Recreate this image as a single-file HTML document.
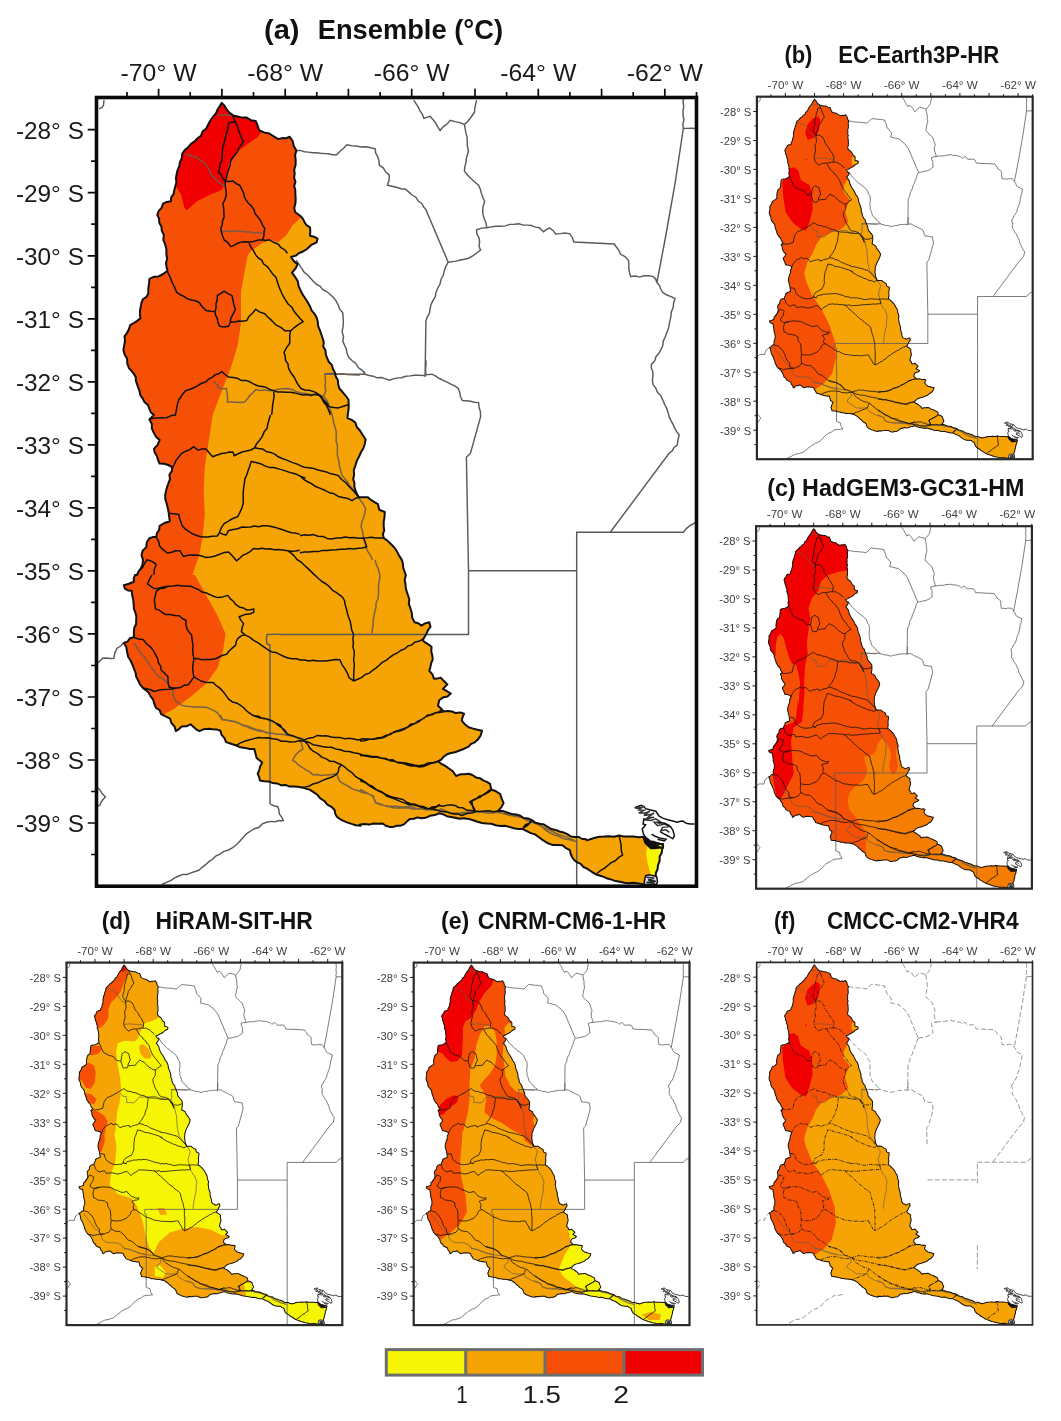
<!DOCTYPE html>
<html><head><meta charset="utf-8"><title>Figure</title>
<style>
html,body{margin:0;padding:0;background:#fff}
body{width:1061px;height:1421px;position:relative;overflow:hidden;font-family:"Liberation Sans",sans-serif}
svg text{font-family:"Liberation Sans",sans-serif}
</style></head><body>
<svg width="1061" height="1421" viewBox="0 0 1061 1421" style="position:absolute;left:0;top:0">
<defs>
<path id="basin" d="M221.8 102.9 L219.7 106.2 L217.6 109.5 L216.1 113.1 L213.1 116.7 L210.3 120.5 L208.1 124.7 L206 128.9 L202.5 131.5 L201 135.8 L197.5 138.3 L194.6 141.4 L190.9 143.9 L188.2 147.4 L184.7 150.1 L182.2 153.8 L181.8 158.1 L180 162 L179.3 166.2 L177.6 170.1 L176.6 174.2 L175.9 178.1 L176.4 182.2 L175.4 186.1 L174.3 190 L173.6 193.9 L171.2 197.3 L170.9 201.3 L166.8 201.9 L163 203.6 L161.7 207.7 L158.7 210.9 L157.3 214.9 L159.1 218.7 L159.3 222.9 L161.4 226.5 L161.8 230.7 L163.9 235 L163.3 239.9 L165.2 244.3 L166.4 249.5 L166.4 254.9 L167.2 258.8 L166 262.9 L166.5 266.9 L167.5 270.8 L163.2 274 L158.5 276.5 L153.7 276.8 L149.4 278.8 L149 283.7 L148.3 288.6 L148.3 293.5 L146.5 296.9 L143.1 299 L141.5 302.5 L140.8 306.4 L140 310.3 L139.9 314.3 L140.4 318.3 L137.2 320.9 L133.8 323.1 L130.2 325.1 L128.9 329.2 L127 333 L124.5 336.4 L125 341 L124.2 345.5 L123.4 350 L124.6 354.6 L127.1 358.8 L127.3 363.7 L129 368.1 L131.5 370.9 L133.8 373.9 L135.8 377.1 L135.8 380.6 L137 383.9 L138.2 387.7 L139.6 391.3 L140.4 395.2 L142.7 398.6 L144.6 402.2 L147.9 404.9 L149.4 408.8 L150.9 412.4 L153.9 414.9 L149.4 419.5 L151.8 423.7 L151.9 428.7 L153.9 433.1 L156.2 436.9 L159.6 439.9 L157.6 444.9 L153.9 448.9 L154.8 452.8 L157 456.2 L158 460 L159.6 463.6 L164 463.8 L168.1 465 L172 467 L171.8 471.1 L169.4 474.8 L170 479.1 L168.6 482.9 L167.2 486.7 L166.1 490.6 L165.2 494.6 L165.2 498.7 L166.6 503.2 L167.7 507.7 L168.6 512.3 L169.2 516.8 L169.8 521.3 L164.5 523 L159.6 525.8 L159.2 529.8 L156.9 533.2 L156.2 537.1 L152.7 537.1 L149.4 538.3 L146.8 542.2 L146.3 547.1 L142.7 550.6 L141.5 555.2 L142.9 559.7 L142.6 564.3 L141 568 L138.7 571.3 L137 574.9 L135.1 575 L133.7 578.3 L133.9 581.8 L129 583.8 L123.8 585.2 L124.9 588.6 L128 590.5 L131.7 590.8 L132.2 595.3 L133.2 599.8 L133.7 604.3 L133.9 608.9 L135.3 612.5 L136.3 616.3 L136.2 620.2 L136.1 624.1 L134.3 627.7 L133.9 631.6 L133.9 637.2 L130 638.2 L127.5 641.6 L123.8 642.9 L126.3 647.1 L127.1 651.9 L128.1 656.8 L130.8 661 L132.8 665.5 L134.1 669.2 L135.6 672.9 L136.2 676.8 L138.3 680.7 L140.2 684.7 L143 688.1 L145.9 690.3 L148.6 692.6 L150.6 696.3 L153.2 699.7 L154.3 703.9 L155.9 707.8 L159.6 710.2 L161.1 714.1 L165.6 716.3 L170.1 718.6 L171.4 723 L174.6 726.6 L175.8 731.1 L178.9 729.2 L181.4 726.6 L186.2 726.3 L190.5 724.3 L193.3 726.8 L196.2 729.3 L199.5 731.1 L203.9 729.2 L208.6 728.8 L212.6 729.3 L216.6 729.4 L220.4 730.8 L221.6 734.9 L224.5 738.2 L226 742.1 L231.1 743.7 L236.2 745.5 L240.5 747.3 L245.1 747.9 L249.6 749 L254.3 748.9 L255.5 753.4 L256.6 758 L259.4 760.2 L262.2 762.5 L260.3 766.1 L259.2 770 L257.7 773.8 L259.2 777.1 L259.9 780.6 L264.1 781.2 L268.4 781.4 L272.4 782.9 L277 783.4 L281.3 785.3 L286 785.1 L289.8 786.6 L293.9 786.5 L297.9 786.8 L301.8 787.4 L305.7 788.6 L309.6 789.6 L313.1 791.9 L317.2 794.6 L320.3 798.4 L324.4 801 L327.3 804.6 L331.4 806.8 L334.6 810 L335.2 813.6 L336.9 816.8 L340 819.1 L343.4 820.9 L347 822.4 L351.5 823.9 L355.9 825.2 L360.6 825.8 L360 824.6 L364.5 824.1 L369.1 824.6 L373.5 823.5 L378.1 823.7 L382.6 823.5 L385.8 825.7 L389.4 826.9 L393.2 826.9 L396.9 825.7 L400.7 825.7 L404.3 824.1 L406.9 821.4 L409.8 818.9 L413.8 818.8 L417.6 817.4 L421.7 818.2 L425.6 817.8 L430 815.8 L434.8 815.1 L439.2 813.3 L443.2 814.4 L446.9 816.2 L451 817 L455 817.8 L459.5 818.8 L464.1 818.2 L468.6 818.9 L473.1 820.3 L477.5 821.7 L482 823 L486.7 823.5 L491.3 823.8 L495.7 825.3 L500.2 825.9 L504.8 825.7 L509.3 826.9 L513.7 828.3 L518.2 829.1 L522.9 829.1 L526.8 831.1 L530.8 833.1 L535 834.4 L538.7 837 L542.9 840.2 L547.3 843 L552.3 844.9 L557.4 845.1 L562.5 845.3 L566 848.1 L569.9 850.2 L570.7 854 L572.3 857.5 L574.4 860.3 L577.2 862.4 L580.8 863.9 L583.4 867 L587 868.6 L590.2 870.8 L593.4 872.9 L596.8 874.7 L601.8 876.2 L606.5 878.2 L611.5 879.6 L615.7 881.1 L620 881.7 L624.3 882.8 L628.7 883.3 L633.7 882.8 L638.6 883.4 L643.4 884.5 L643.4 884.5 L647.9 883.6 L652.5 883.1 L656.9 882 L655.6 877.1 L655.9 872.9 L657.6 869 L658.1 864.9 L659.6 860.9 L659.7 856.4 L661.8 852.6 L662.3 848.3 L663 844 L658 843.9 L653.2 842.8 L647.1 842.8 L644.5 840.2 L643.4 836.7 L638.5 837.2 L633.6 836.6 L628.7 836.6 L623.8 836.4 L618.9 835.5 L614.1 836.7 L609.1 836.2 L604.2 836.6 L599.3 836.7 L595.1 837.7 L591 839 L587 840.4 L586.2 839.3 L582.3 839 L578.8 837 L574.9 837 L570.8 836.4 L567.3 834.2 L563.6 832.5 L559.5 831.5 L555.6 829.9 L551.4 829 L547.7 826.9 L544 824.6 L539.7 823.7 L535.5 822.7 L531.9 820.1 L528 818.5 L523.7 818 L520.1 815.7 L516.1 814.4 L511.5 813.9 L507.1 812.5 L502.7 810.9 L498 811 L501.3 807.4 L503.6 803.1 L501.7 798.7 L500.2 794.1 L496 791.2 L491.2 789.5 L490.1 783.9 L486.8 781.8 L483.2 780.3 L479.9 778.2 L475.9 777.4 L472.4 775 L468.6 773.7 L464.4 774.3 L460.1 774.3 L456.1 776 L452.8 771.3 L448.2 768 L444.9 765.6 L441.2 763.8 L438 761.3 L441.3 759.6 L443.7 756.7 L447.1 754.3 L450.9 753 L455 752.2 L459.6 750.5 L464.2 748.7 L468.6 746.6 L471.2 743.8 L474.8 742.3 L477.6 739.8 L480.6 735.6 L482.1 730.7 L477.5 729.8 L473.1 728.6 L468.6 727.3 L464.8 724.3 L461.8 720.5 L462.6 717 L464.1 713.8 L460.1 712.4 L455.9 713.1 L452 711.5 L447.9 711.1 L443.7 711.5 L441 708.5 L438 705.8 L439.2 700.2 L442.8 697.6 L447.4 696.6 L450.8 693.5 L446.8 691.2 L442.9 688.9 L447.4 684.4 L443.9 681.1 L440.7 677.6 L437.4 678.6 L433.9 678.8 L432.4 674.3 L429.3 670.8 L430.4 667 L431.2 663.1 L432.7 659.5 L432.3 655.4 L431.2 651.3 L431.6 647.1 L428.7 644.6 L425.5 642.7 L422.6 640.3 L426 634.6 L427.9 630.4 L430.5 626.7 L429.3 622.2 L425.1 623.4 L421.4 625.6 L418.3 623.3 L414.6 622.2 L412.2 617.6 L411.7 612.4 L410.1 607.5 L408.8 603.6 L409.3 599.4 L408.1 595.5 L406.7 591.7 L405.8 587.7 L405.4 583.6 L404.7 579.5 L405.9 575.3 L404.5 571.3 L403.2 567.6 L402.9 563.7 L401.8 559.9 L399.1 555.6 L396.8 551.1 L393.9 547 L390.6 543.8 L387.4 540.6 L383.7 538 L382.9 534.2 L384.2 530.5 L383.7 526.7 L383.7 521.8 L384.5 516.9 L384.8 512 L379.2 509.7 L378 504.1 L374.5 502.1 L371 499.9 L367.9 497.3 L363.4 497.2 L358.8 497.3 L357 493.9 L355.4 490.5 L354.4 486.8 L354.4 482.9 L353.2 479.2 L354.1 474.7 L353.8 470 L355.4 465.6 L356.8 460.9 L359.1 456.5 L361.1 452 L363.4 448.2 L364.8 444 L365.6 439.6 L362.8 435 L359.9 430.5 L356.8 427 L355.4 422.6 L351.7 419.9 L347.5 418.1 L347.9 413.5 L348.6 409 L348.7 404.4 L348.5 399.8 L345.8 395.8 L342.6 392.1 L339.4 388.5 L338.2 384.5 L337.9 380.3 L335.8 376.6 L334.9 372.6 L332.9 369.1 L331.9 365 L328.9 362 L327.3 358.3 L325.8 354.5 L325.5 350.3 L323.2 346.6 L323.8 342.2 L322.6 338.2 L321.3 334.2 L319.8 330.2 L318.2 326.2 L317.8 321.8 L316.6 317.6 L314.5 313.8 L311.6 310.4 L310 306.3 L307.8 302.4 L305.5 298.7 L303 295.1 L301 291.2 L298.7 286.4 L297.7 281.1 L295 276.8 L292 272.6 L295.4 268.7 L297.7 264.1 L293.8 261.1 L291.1 257 L295.8 255.6 L298.8 253.2 L302.4 251.8 L307 249 L310.9 245.2 L316.6 242.4 L317.5 238.6 L314 236.7 L310 235.8 L310.3 231.6 L310 227.3 L306.5 225.2 L304.3 221.7 L302.8 218.6 L300.5 216 L295.3 212.3 L294.2 208.1 L295.4 203.6 L295.7 199.1 L295.4 194.5 L295.3 190 L294.2 186 L295.5 181.8 L294.1 177.8 L294.7 173.7 L294.2 169.6 L295.6 164.9 L295.7 160 L295.1 155.1 L296.4 150.4 L293.8 146.1 L292.7 141 L289.7 136.8 L286 138.3 L282.1 138.1 L278.3 139.1 L273.7 136.4 L269.3 133.5 L264 132.4 L259.1 130.1 L257.6 125.5 L255.7 121 L250.9 120.2 L246.7 117.6 L242 117.6 L237.6 116.4 L233.1 115.4 L229.6 112.8 L226.8 109.7 L224.7 105.9Z"/>
<clipPath id="cb"><use href="#basin"/></clipPath>
<path id="sub" d="M233.1 115.4 L233.9 118.9 L235.4 122.1 L231.9 122.1 L228.6 123.3 L228 128.5 L226.3 133.5 L225.3 138 L224.3 142.6 L222.9 147 L222.4 151.5 L222.2 156.1 L221.8 160.6 L220 164.2 L219.7 168.2 L218.4 171.9 L221.2 174.5 L222.7 178.2 L225.2 181 M235.4 122.1 L237.6 126.5 L238.8 131.2 L240.9 136.4 L243.3 141.4 L241.4 144.8 L238.9 147.9 L237.6 151.6 L235.3 154.5 L232.9 157.5 L230.8 160.6 L230.1 165.2 L228.6 169.6 L227.4 173.4 L226.7 177.3 L225.2 181 M225.2 181 L225.2 185.5 L225.9 190 L226.3 194.5 L225.1 199.3 L222.9 203.6 L223.7 208.1 L223.9 212.6 L224.1 217.1 L222.6 220.8 L222.3 224.8 L220.7 228.5 L221.5 232.4 L222.7 236.1 L224.1 239.8 L227.9 242.7 L230.8 246.6 L234.3 245.1 L237.6 243.2 L241.3 242.1 L245.1 241.8 L248.9 242 L253.5 241.4 L257.9 240.1 L262.5 239.8 L263.9 236.2 L264 232.3 L264.8 228.5 L262.3 224.8 L260.7 220.7 L258 217.1 L255.1 213.7 L253.8 209.4 L251.2 205.8 L248.4 203.2 L246.2 200.1 L244.4 196.8 L243.6 192.8 L241.7 189.2 L239.9 185.5 L236.3 183.6 L233.1 181 L229.1 181.6 L225.2 181 M262.5 239.8 L265.9 240.6 L269.3 239.8 L273.7 242.3 L278.3 244.3 L281 247.7 L284.8 249.9 L287.4 253.3 M248.9 243.2 L251 247.2 L253.6 250.9 L255.7 254.9 M167.5 272 L170.1 276.9 L172 282.1 L174.5 287.1 L176.6 292.3 L180.3 294.7 L184.3 296.6 L187.9 299.1 L191.7 300.1 L195.6 300.8 L199.2 302.5 L202.2 306.8 L206 310.4 L210.5 311.2 L215 311.6 L216.1 307.7 L216 303.6 L217.3 299.8 L217.3 295.7 L220.7 293.5 L224.1 291.2 L228 293.6 L232 295.7 L233 300.3 L233.9 304.9 L235.4 309.3 L233.2 313.9 L230.8 318.3 L230.3 322.5 L228.6 326.3 L224.1 327 L219.5 326.3 L217.9 322.4 L217.3 318.3 L215.5 315.2 L215 311.6 M230.8 321.7 L234.8 322 L238.7 321.1 L242.8 321.3 L246.7 320.6 L249.1 316.3 L252.7 313 L255.7 309.3 L260 312.1 L264.8 313.8 L267.5 316.8 L270.5 319.4 L273.3 322.2 L276.1 325.1 L280.9 327.4 L285.1 330.8 L290.8 330.8 L294.6 327.3 L298.7 324.3 L303.2 321.7 L300.1 318.5 L297.1 315.1 L294.2 311.6 L291.9 307.3 L288.1 304 L285.4 299.9 L282.9 295.7 L280.9 291.3 L279 286.8 L277.5 282.2 L276.1 277.6 L272.7 274.1 L270 270.1 L267 266.3 L263.6 264 L261.8 260.2 L258.4 258 L255.7 255 M290.8 330.8 L289.7 334.9 L289.8 339 L289.7 343.2 L286.6 347.6 L284 352.3 L285.2 356.2 L285.6 360.4 L288 364 L288.5 368.1 L290.9 372.8 L294.1 377 L296.4 381.7 L298.5 385.3 L301 388.5 L304.8 390 L309 390.2 L313 391.4 L316.8 393 L320.7 395.9 L323.6 399.8 L326.2 404.1 L328.1 408.8 L330.4 414.9 M150.5 419.1 L154.6 418 L158.8 418 L163 417.7 L167.3 417.5 L171.2 415.6 L175.4 414.9 L176.6 408.8 L177.4 404.2 L178.8 399.8 L181 396.7 L183.1 393.5 L185.6 390.7 L189.5 389.5 L193.3 388 L196.9 386.2 L201.2 383.5 L206 381.7 L208.7 379.1 L212.2 377.4 L215 374.9 L218.7 373.8 L221.8 371.5 L225.1 374.5 L228.6 377.1 L233.1 377.6 L237.6 378.3 L241.3 380.4 L245.8 380.4 L249.8 381.8 L253.5 383.9 L257.4 385.7 L261.7 386.5 L265.9 387.3 L269.7 389.4 L273.8 390.7 L277.8 392 L282.1 391.9 L286.3 392.2 L290.5 392.3 L294.6 392.9 L298.7 394.1 L302.7 395 L306.9 394.5 L310.9 395.5 L315.1 394.3 L319.1 395.2 L321.7 398.4 L323.6 402 L326.5 405.4 L328.3 409.4 L330.4 413.3 M273.8 391.9 L274.1 396.1 L273.5 400.2 L272.7 404.3 L272.3 409.6 L271.6 414.9 M172 469.3 L174 465 L175.9 460.6 L178.8 456.8 L181.7 453.4 L185.6 451.2 L189.9 449.6 L193.5 446.7 L198 450.1 L201.9 449 L206 448.9 L209.3 452.9 L212.7 456.8 L217.2 455 L221.8 453.5 L225.6 453.1 L229.3 452 L233.1 452.3 L234.2 455.7 L238.2 453.8 L242.1 452 L246.5 451 L250.8 450 L254.6 447.8 L258.5 448.5 L262.5 448.9 L266.2 451.4 L270.6 452.4 L274.7 454.1 L278.3 456.8 L282.8 458.7 L287.4 460.4 L291.9 462.4 L296.5 463.9 L301 465.9 M270.4 415 L269.1 419.5 L267.8 424 L267 428.6 L264 432.1 L262.3 436.4 L259.6 440.2 L256.6 443.7 L254.6 447.8 M226.3 534.9 L222.8 534.2 L219.5 532.6 L221.3 527.8 L224.1 523.6 L228.5 521.1 L232.8 518.5 L237.6 516.8 L239.9 512.4 L241.9 507.9 L243.3 503.2 L243.2 499.1 L243.1 495 L243.3 491 L243.8 486.9 L244.4 482.9 L244.9 478.9 L246.6 475.3 L247.8 471.6 L249.6 466.5 L251.2 461.4 L255.9 462.5 L260.5 463.7 L264.8 465.9 L269.2 467.4 L274 467.5 L278.5 468.9 L283 470.1 L287.4 471.6 L292 473.1 L296.7 474.3 L301 476.5 L305.5 478.3 M169.8 513.4 L174.3 513.7 L178.8 514.5 L179.5 518.4 L181 522.1 L182.2 525.8 L185.2 529 L188.8 531.3 L192.4 533.8 L197.4 535.8 L202.6 537.1 L207.5 536.9 L212.4 536.3 L217.3 536 L219.5 532.6 L222.7 534.2 L226.3 534.9 L228.6 530.4 L233.2 529.5 L237.8 528.8 L242.1 527 L246.3 527.2 L250.4 526.9 L254.5 526 L258.7 526.7 L262.8 525.8 L267 525.8 L271.2 526.4 L275.3 527.4 L279.4 528.7 L283.4 530 L287.4 531.5 L291.5 532.7 L295.7 533.1 L299.8 534.4 M156.2 537.1 L158.6 541.4 L159.6 546.2 L163.3 549.9 L167.5 553 L171.7 552.3 L175.6 550.7 L179.9 550.7 L183.3 556.4 L188.1 555.3 L193.1 555 L198 555.2 L202.1 556.1 L206 557.5 L210.7 556.9 L215.2 556 L219.6 554.3 L224 552.6 L228.6 551.9 L231.3 554.8 L234 557.8 L236.5 560.9 L239.7 558.2 L242.8 555.3 L246.8 553.6 L250.4 551.4 L253.5 548.5 L257.6 549 L261.8 548.2 L265.9 549.1 L270.1 548.7 L274.2 549.8 L278.3 549.6 L282.9 550.1 L287.4 550.7 L291.6 551.3 L295.7 550.9 L299.8 550.3 M287.4 550.7 L291.2 553.1 L294.4 556.1 L297.2 559.7 L301 562 L304.4 565.2 L307.8 568.4 L311.2 571.6 L314.5 574.9 L318.1 578.3 L321.9 581.5 L326.2 584 L329.6 586.9 L332.6 590.3 L336.5 592.7 L340 595.4 M137 574.9 L139 570.8 L142.5 567.6 L144.5 563.5 L147.1 559.8 L152 561.4 L156.2 564.3 L154.3 569.4 L153.9 574.9 M322.6 400 L326.5 402.9 L329.4 406.8 L333.9 407.5 L338.5 407.9 L343.5 406.2 L348.6 404.5 M300 465.6 L304.4 467.3 L309.1 467.7 L313.7 468.5 L318.1 470.1 L322.3 470.9 L326.4 471.9 L330.3 473.6 L334.5 474.4 L338.5 475.8 L341.6 479.5 L345.5 482.3 L348.6 486 L352.2 489.6 L355.7 493.3 L358.8 497.3 M300 475.8 L303.3 479.1 L307.2 481.5 L311.3 483.7 L315.6 486.5 L320.3 488.4 L324.9 490.3 L329.4 492.7 L334.1 493.8 L338.3 496.4 L343 497.5 L347.7 498.4 L352 500.7 L355.2 498.5 L358.8 497.3 M300 535.7 L304.5 534.7 L309.1 535.3 L313.6 534.6 L318 536.3 L322.8 536.4 L327.1 538.4 L331.7 539.1 L336.2 538.1 L340.7 537.9 L345.2 536.9 L349.7 537.8 L354.2 537.6 L358.7 538.2 L363.3 538 L367.4 537.8 L371.5 537.2 L375.5 538 L379.6 538.1 L383.7 538 M300 552.7 L304.5 551.9 L309 552 L313.6 551.6 L318.1 551.6 L322.5 550.4 L327.1 550.4 L331.6 550 L336.2 549.7 L340.7 549.3 L345.1 549.2 L349.4 548.4 L353.8 548.9 L358.1 548.3 L362.4 548.1 L366.7 547 L365.3 542.4 L363.3 538 M152 575 L149.5 579.4 L147.5 584 L150.9 586.3 L154.3 588.6 L158.9 588.3 L163.3 586.9 L167.9 586.3 L173 585.9 L178 585.2 L182.1 585.9 L186.3 586 L190.5 586.3 L194.4 587.9 L198.3 589.5 L201.8 592 L206 592.8 L209.8 594.6 L213.6 596.3 L217.6 597.6 L222.8 596.9 L227.8 595.4 L230.2 598.6 L233.3 601.2 L235.7 604.4 L239.2 606.9 L243.4 607.9 L247 610.1 L250.5 609.8 L253.8 608.9 L253.8 612.3 L249.5 614.1 L244.8 614.6 L239.1 616.8 L241 620.4 L243.6 623.6 L242.2 627.5 L241.4 631.6 L244.8 634.9 L241.1 635.9 L238 638.3 L236.2 641.5 L235.7 645.1 L232.5 647.9 L229.3 650.8 L226.7 654.2 L222.8 655.3 L219.1 657 L215.4 658.7 L210.9 659.5 L206.3 659.4 L201.8 659.8 L197.9 658.6 L193.9 658.7 M167.9 586.3 L164.3 588.2 L160.1 588.6 L156.6 590.8 L155.4 595.3 L154.3 599.9 L155 604.4 L155.4 608.9 L159.2 610.1 L162.3 612.5 L165.6 614.6 L170.2 614.5 L174.6 615.6 L179.2 615.7 L182.2 618.5 L186 620.2 L185.9 624.8 L187.1 629.3 L189.2 632.2 L191.6 634.9 L192.1 639.8 L193 644.7 L192.7 649.6 L193 654.2 L193.9 658.7 L193.2 663.2 L192.7 667.7 L193 672.3 L193.9 676.8 L191.2 680.9 L188.2 684.7 L184.3 685.2 L180.8 687.4 L176.9 688.1 L172.9 687.9 L169 687 L168.1 681.9 L167.9 676.8 L164.6 673.3 L161.1 670 L160.6 666.1 L158.3 662.6 L157.7 658.7 L155.6 654.8 L153.5 650.9 L150.9 647.4 L146.6 643.8 L143 639.5 L138.3 639 L133.9 637.2 M193.9 676.8 L197.8 679.1 L201.8 681.3 L205.5 682.2 L209.3 682.6 L213.1 682.4 L215.9 685.3 L219.2 687.6 L222.1 690.4 L224.5 693.3 L226.6 696.4 L228.9 699.4 L232.4 701.9 L236.6 702.9 L240.2 705.1 L243.5 707.5 L246.2 710.5 L249.3 713 L253.5 715.6 L258.6 716.3 L262.9 718.6 L266.9 719 L270.6 720.3 L274.2 722 L277.1 724.3 L280.1 726.7 L283.2 728.8 L285.9 731.5 L287.7 734.9 M244.8 634.9 L249.6 637.1 L253.7 640.4 L258.3 642.9 L261.6 645.3 L264.9 647.7 L268.3 650 L271.9 651.9 L276.2 652.6 L280.1 654.6 L284 656.5 L288 658 L292.3 658.7 L296.5 658.8 L300.5 660 L304.7 660.1 L308.8 660.9 L313.1 660.2 L317.2 661 L321.8 661.1 L326.3 661.1 L330.9 660.2 L335.4 659.4 L340 659.8 M143 688.1 L146.9 688.8 L150.7 689.8 L154.3 691.5 L159.1 690.1 L164 689.4 L169 689.2 L173 688.8 L176.9 688.1 M340 595.1 L342.7 597.5 L344.5 600.7 L345.2 604.9 L346.4 609 L347.4 613.1 L348.6 617.2 L350.2 621.1 L351 625.7 L351.8 630.3 L353.6 634.6 L352.9 638.8 L353.4 642.9 L352.9 647 L354.2 651.2 L354.2 655.4 L353.6 659.5 L354.3 663.8 L354.1 668.1 L353.8 672.4 L353.7 676.7 L353.6 681 L357.7 679.3 L361.7 677.4 L365.2 674.5 L369.4 673.1 L372.7 670.3 L376.2 667.9 L379.5 665 L382.6 662.1 L386.5 660.1 L389.8 657.3 L393.3 654.9 L397.2 653 L400.7 650.5 L404.7 648.9 L407.9 646 L411.9 644.9 L415 642 L419.1 641.3 L422.6 639.2 M340 659.8 L341.9 664.4 L344.8 668.6 L347.3 672.9 L349 677.6 L353.6 681 M426 716.1 L430.5 714.6 L434.9 712.9 L439.5 711.6 L441.8 709.3 M252 715 L255.9 716.5 L259.8 717.9 L264 718.2 L267.9 719.5 L272.2 721.1 L276.2 723.3 L280.3 725.2 L282.9 729.3 L286 733.1 L289.6 735 L293.5 736.2 L297.3 737.6 L300.8 738.4 L304.1 739.9 L308.5 738.2 L313.3 737.4 L317.6 735.4 L322.1 736 L326.7 735.8 L331.2 736.9 L335.7 737.6 L340.3 737.6 L344.7 738.8 L349.3 738.3 L353.8 739.1 L358.3 739.9 L362.8 738.8 L367.4 738.9 L372 739.3 L376.5 738.1 L381 737.6 L385.5 735.6 L390.3 734.6 L394.3 731.6 L399 730.2 L403.6 728.6 L407.4 727.2 L410.5 724.3 L414.7 723.5 L418 721.1 L421.7 719.5 L425.9 716.6 L430.7 715 M236.2 745.5 L240.5 742.9 L245.2 741 L249.7 739.8 L254.2 738.6 L258.8 737.6 L263.3 738 L267.9 737.7 L272.4 738.8 L277 739.2 L281.3 741.2 L286 741.2 L290.5 742.1 L295 741.7 L299.5 740.7 L304.1 741 M304.1 741 L308.7 742.2 L312.9 744.7 L317.6 745.5 L322.1 746.6 L326.6 747.2 L331.3 747.3 L335.7 748.9 L340.3 749.7 L344.7 751.2 L349.3 751.6 L353.8 752.7 L358.3 753.5 L362.7 755 L367.3 755.5 L371.9 756.4 L376.6 756.4 L381 758 L385.7 758.4 L389.9 760.7 L394.6 761.2 L398.9 763.1 L403.6 763.6 L407.4 765 L411.4 765.9 L415.5 766 L419.4 767 L423.4 766.6 L427.1 765.1 L430.7 763.6 L435.6 762.5 L440 760.2 M304.1 741 L307.5 744 L309.8 748.1 L313.1 751.2 L317.7 753.7 L321.8 757.1 L326.7 759.1 L330.1 761.3 L334.2 761.5 L337.8 763.3 L341.4 764.8 L345 767.2 L348.2 770.2 L351.8 772.6 L354.8 775.8 L358.3 778.3 L362.2 780 L365.8 782.4 L369.2 785 L373.1 786.8 L376.4 789.6 L381 791.4 L385.2 794.2 L389.7 796.2 L394.5 797.6 L398.7 798.5 L402.9 799.5 L406.6 802.1 L410.6 803.7 L414.9 804.3 L419.4 806 L424.2 806.8 L428.5 808.9 L432.2 807 L436.4 806.5 L440 804.3 M341.4 764.8 L338.9 767.8 L338.3 771.9 L335.7 774.9 L331.4 777.3 L326.7 778.8 L322.1 780.6 L317.7 782.8 L312.9 784 L308.6 786.3 L305.2 787.1 L301.8 787.4 M360 740.9 L364.6 740.8 L369 739.2 L373.6 739.2 L378.1 738.6 L382.9 737.7 L387.2 735.7 L391.4 733.2 L396 731.7 L400.7 730.7 L405.3 728.7 L409.7 726 L414.2 723.8 L418.8 721.7 L421.8 719.4 L424.9 717.3 L427.9 714.9 L432 714.8 L435.7 712.8 L439.8 712.5 L443.7 711.5 M360 755.6 L364.1 755.7 L368.2 756.6 L372.2 757.3 L376.4 756.9 L380.4 757.9 L384.5 758.8 L388.4 760 L392.8 759.8 L396.5 761.9 L400.7 762.4 L405.2 763.1 L409.7 764.1 L414.2 765.1 L418.8 765.8 L423.7 765.1 L428.2 762.9 L433.2 762.4 L438 761.3 M360 780.5 L364.9 782.5 L369.2 785.6 L373.6 788.4 L378.2 790.8 L383 793 L387.1 796.3 L391.7 797.7 L396.2 799.6 L400.6 801.6 L405.2 803.1 L409.2 804.7 L413.5 804.8 L417.6 806 L421.7 807.2 L425.8 808.5 L430.1 808.8 L434.9 807.8 L439.2 805.4 L443.1 806.2 L447.1 805.1 L451.1 804.9 L455 805.4 L458.5 807.5 L462.8 807.8 L466.3 809.9 L470.9 810.4 L475.4 811 L479.9 811.4 L484.4 811 L489 810.8 L493.5 811.7 L498 811 M490.1 789.5 L486.9 792.4 L483.2 794.7 L479.9 797.4 L474.6 799.2 L469.7 802 L473 806.2 L475.4 811 M430.1 808.8 L434.2 809.5 L438.3 810.6 L442.3 811.6 L446.5 811.9 L450.5 813.3 L454.3 814 L458.2 814.1 L461.8 815.5 L466.2 813.7 L470.8 813 L475.4 812.1 M531.9 820.1 L529.3 823.2 L525.4 824.8 L522.9 828 M618.9 835.5 L620.2 840.3 L621.1 845.2 L621.2 850.3 L622.6 855.1 L618.7 857.4 L615.4 860.7 L611.2 862.6 L607.7 865.5 L604.3 868.4 L600.4 870.7 L596.8 873.5 M491.5 790.1 L487.8 792.7 L483.8 794.9 L479.4 796.2 L475.9 799.1 L471.9 801.2 L472.5 806.3 L474.3 811 M531.9 820.8 L529.4 823.6 L526.5 826.1 L523.3 828.1"/>
<path id="riv" d="M184.5 154.3 L188.8 154.7 L192.7 156.5 L196.9 157.2 L199.9 159.9 L203.4 162 L206 165.1 L208.7 168.6 L210.1 172.8 L212.7 176.4 L216.1 179.8 L219.5 183.2 L225.2 185.5 M217.3 114.9 L221.2 115.5 L225.2 114.6 L229.1 115.4 L233.1 115.4 M221.8 231.9 L225.5 231 L229.4 231.4 L233.1 230.7 L237.6 231.2 L242.2 231.6 L246.7 231.9 L250.7 231.9 L254.5 233.2 L258.6 232.6 L262.5 233.4 M213.9 381.7 L217.1 384.8 L219.5 388.5 L222.9 388.7 L226.3 388.5 L227.2 393 L227.6 397.5 L227.4 402 L231.7 402 L235.9 402.2 L240.2 402.5 L244.4 402 L247.4 399.1 L249.7 395.5 L253 392.8 L255.7 389.6 L260.2 390.4 L264.8 389.9 L269.3 390.7 L273.9 390.5 L278.3 389.3 L282.8 388.8 L287.4 388.5 L292.1 389.4 L296.4 391.8 L301 393 L305.5 393.6 L310 394.6 L314.6 394.6 L319.1 395.2 L323.6 396.4 L326.7 400.1 L329.2 404.3 M324.7 373.8 L325.3 378 L325.5 382.2 L325 386.5 L325.8 390.7 L323.6 396.4 M324.7 373.8 L329.1 373.6 L333.5 373.6 L337.9 374 L342.4 373.8 L346.8 374.4 L351.2 374.8 L355.6 374.9 L360 374.9 M324.9 400 L327.5 404.4 L329.8 408.9 L331.7 413.6 L332.8 418.1 L333.7 422.7 L335.1 427.2 L336.2 431.7 L336.3 436.2 L336.1 440.8 L337.3 445.2 L337.4 449.8 L337.3 454.3 L338.2 458.4 L339.1 462.4 L339.5 466.6 L340.8 470.6 L341.8 474.6 L344.2 478.1 L347 481.3 L349.2 485 L352 488.2 L354.3 492.2 L357.5 495.6 L359.9 499.5 L363.1 503.8 L365.6 508.6 L364.8 513.2 L363.5 517.7 L361.8 522.1 L361.1 526.7 L362.5 531.1 L363.2 535.7 L364.5 540.2 L365.5 544 L366.2 548 L367.9 551.6 L370.6 555.5 L372.4 559.9 M375.1 560 L376.3 564.6 L378.3 569 L379.6 573.6 L379.9 577.7 L379 581.7 L378.5 585.8 L378.6 589.8 L378.5 593.9 L378.1 598.5 L376.1 602.9 L375.9 607.5 L374.7 612 L373.9 616.6 L373.1 620.8 L373.1 625.1 L372.4 629.3 L371.7 633.5 M133.9 642.9 L136.9 647.3 L139.6 651.9 L143 655.4 L146 659.1 L148.6 663.2 L151.1 667.1 L154 670.7 L156.6 674.5 L159.3 677.1 L162.9 678.6 L165.6 681.3 L168.1 684.2 L170.4 687.1 L172.4 690.4 L173 695 L174.6 699.4 L177.8 702.5 L181.4 705.1 L185.9 706.3 L190.5 706.6 L195 707.3 L198.8 706.8 L202.5 707.2 L206.3 707.3 L210.2 708.9 L214.1 710.6 L217.6 713 L219.8 716.4 L222.1 719.8 L226.7 720.3 L231.2 720.8 L235.7 722 L239.5 723.5 L243 725.5 L247 726.6 L250.6 728.6 L254.5 729.6 L258.3 731.1 L262.9 731.4 L267.3 732.9 L271.9 733.3 M220.4 715 L222.6 719.5 L226.7 719.9 L230.5 721.2 L234.6 721.6 L238.5 722.9 L242.8 725.1 L247.5 726.3 L252.1 727.9 L256.6 729.7 L260.7 730.3 L264.7 731.6 L268.7 733 L272.9 733.2 L276.9 734.2 L280.9 734.2 L284.8 734.8 L288.7 735.6 L292.7 735.4 L296.8 737.5 L300.7 739.9 L301.6 744.4 L302.9 748.9 L298.6 751.9 L295 755.7 L292.7 760.2 L295.9 762.3 L298.5 765 L301.8 767 L305.5 769.7 L309.6 771.9 L313.1 774.9 L317.1 774.4 L321 775.4 L324.9 774.9 L328.9 774.9 L332.9 774.3 L336.9 773.8 L338.1 777.9 L340.2 781.7 L344.7 784.4 L349.3 787 L353.8 789.6 L358.4 790.8 L362.8 792.7 L367.5 793.6 L371.9 795.3 L374.2 799.2 L376.4 803.2 L380.1 804.6 L383.9 805.6 L387.7 806.6 L391.8 806.2 L395.9 806.2 L399.9 806.8 L404 806.9 L408.1 806.6 L412.7 807 L417 808.9 L421.8 808.7 L426.2 810 L430.8 809.6 L435.4 809.5 L440 810 M360 789.5 L364.6 791.7 L369 794.2 L373.6 796.3 L374.3 799.8 L375.8 803.1 L379.9 803.8 L383.7 805.6 L387.9 806 L391.7 807.6 L395.8 807.9 L400 807.7 L404.2 808 L408.3 807.9 L412.4 808.9 L416.6 808.8 L420.7 808.6 L424.7 809.6 L428.8 809.3 L432.8 809.8 L436.9 809.9 L441.4 810.9 L446 811.6 L450.4 812.9 L455 813.3 L459.1 813.6 L463.1 812.6 L467.2 812.4 L471.3 812.8 L475.4 812.1 L479.5 811.7 L483.5 812 L487.6 812 L491.6 812.7 L495.7 812.1 L500.3 812.6 L504.7 814.1 L509.2 815.2 L513.7 816 L518.3 816.7 L523 817.8 L527.2 820.6 L532 821.6 L536.4 823.5 L540.7 826.1 L545.4 828.2 L550 830.2 L554.5 832.5 L558.4 834.5 L562.6 835.9 L566.8 837.1 L570.7 839.1 L574.9 840.4 M440 808.5 L444.1 810.1 L448.1 812 L452.3 813.4 L457.2 813.2 L462.1 813.2 L467 812.1 L471.9 812.2 L476.1 812.3 L480.3 811.8 L484.5 812.8 L488.7 812.9 L492.9 813.1 L497.1 812.3 L501.3 812.9 L506.2 814 L511.1 815 L516.1 815.6 L520.9 817.1 L525.3 818.6 L529.2 821.3 L533.6 823 L538 824.4 L542.3 827 L546 830.5 L550.3 833 L553.9 834.7 L557.7 835.9 L561.3 837.7 L565 839.1 L568.7 839.6 L572.4 840.5 L576 841.6"/>
<path id="prov" d="M296.2 150.8 L300.3 150.4 L304.3 151.8 L308.4 152.1 L312.4 152.8 L316.5 152.8 L320.5 153.2 L324.6 153.5 L328.7 153.7 L332.6 154.8 L336.7 154.8 L340 151.3 L343.6 148.2 L346.9 144.7 L351.6 145.8 L356.3 146 L361 147 L365.9 146.7 L370.5 147.7 L375.2 148.8 L375.7 153 L377.8 156.8 L379 160.8 L379.3 165 L383.2 167.8 L385.7 172 L389.4 175.1 L389 180.3 L387.4 185.2 L392 186.2 L396.5 187.2 L400.9 188.7 L405.6 189.3 L408.9 192.1 L412.1 195 L415.8 197.2 L418.2 201 L421.8 203.5 L423.5 206.8 L425.9 209.6 L448.2 262.2 M448.2 262.2 L452.3 261.6 L456.4 261.1 L460.4 260 L464.5 259.3 L468.5 258.2 L472.8 256 L476.7 253 L480.6 250.1 L479 246.2 L479.6 241.9 L479 237.8 L476.9 234 L476.6 229.8 L481.5 228.1 L486.7 227.8 M413.7 100.1 L416 103.6 L418.3 107.1 L420 111 L422.4 114.4 L423.9 118.4 L430 116.3 L432.9 119.6 L435.7 122.9 L437.7 126.9 L440.1 130.5 L443.2 126.9 L447.1 124 L450.2 120.4 L455 121.6 L459.8 122.6 L464.4 124.4 L467.5 121.8 L469.9 118.8 L472.2 115.5 L474.5 112.3 L474.8 108.2 L475.7 104.1 L476.6 100.1 M464.4 124.4 L465.2 128.8 L465.9 133.2 L467.2 137.5 L467.2 142 L467.4 146.5 L468.5 150.8 L467.4 154.8 L466.3 158.8 L465.8 162.9 L464.8 167 L464.4 171.1 L467.5 175 L471 178.6 L474.7 182 L478.6 185.2 L480.3 189.2 L481.4 193.4 L482.9 197.5 L484.7 201.5 L483.1 206.4 L482.6 211.6 L483.3 215.7 L484.7 219.7 L486.2 223.6 L486.7 227.8 M486.7 227.8 L491.3 226.9 L495.9 226.2 L500.6 226.3 L505.3 225.9 L509.8 224.4 L514.5 224.3 L519.1 223.7 L523.1 225.1 L527.3 225.1 L531.4 225.5 L535.3 227.1 L539.4 227.8 L543.4 231.8 L546.3 229.6 L549.5 227.8 L553 230.4 L555.6 233.9 L560.3 233.6 L565.1 233.1 L569.8 233.9 L572.3 237.7 L573.8 242 L614.4 244 L616.5 247.3 L618.9 250.4 L620.4 254.1 L624.9 256.5 L628.5 260.2 L628.9 264.3 L628.8 268.4 L629.5 272.4 L630.6 276.4 L635.1 276.1 L639.5 277.1 L644 275.7 L648.4 275.8 L652.9 276.4 L655.6 279 L656.9 282.5 L659.5 285.5 L660.8 289.3 L663 292.6 L666.8 295 L671.1 296.6 L675.1 298.7 L673.6 303 L673.2 307.5 L671.4 311.8 L670.9 316.3 L670 320.7 L669.1 325.1 L668.2 329.3 L666.5 333.2 L665.1 337.3 L663.2 341.1 L662.8 345.5 L661 349.4 L659 353.2 L656.1 356.4 L654.8 360.7 L652 364 M683.3 98.1 L683.2 102.4 L683.7 106.8 L683 111.1 L683.1 115.5 L683.9 119.8 L682.9 124.2 L683.3 128.5 L687.3 128.4 L691.4 128.2 L695.4 128.5 M683.3 128.5 L675.1 183.2 L665 240 L656.9 282.5 M448.2 262.2 L445.9 266.3 L444.3 270.7 L443.3 275.3 L441 279.5 L440 284.1 L437.7 288.2 L436 292.6 L435.2 296.9 L432.9 300.6 L431 304.5 L430 308.8 L429.5 313.1 L427.3 316.9 L425.9 321 L425.1 376.9 M296.2 260.2 L298.9 264.2 L301.7 268.3 L304.3 272.4 L307.7 275 L310.6 278.2 L313.5 281.4 L316.5 284.5 L320.2 286.4 L322.8 289.6 L326.5 291.5 L329.7 294 L332.7 296.7 L335.8 300.4 L338 304.6 L339.7 309.2 L342.8 312.9 L343.1 317.6 L343.4 322.4 L343 327.1 L342.1 331.8 L343.5 336.6 L342.8 341.3 L344.6 345.3 L346.3 349.2 L347.1 353.6 L348.9 357.5 L352.2 360.7 L355.8 363.5 L358.2 367.6 L362.1 370.3 L365.1 373.7 M324.6 374.2 L365.1 374.2 L369.1 375.5 L373.2 376.2 L377.1 377.8 L381.5 377.6 L385.5 378.9 L389.4 380.3 L393.4 378.9 L397.4 377.9 L401.7 377.7 L405.6 376.2 L410 375.9 L414.4 375.3 L418.8 375.2 L423.2 375.4 L427.6 374.6 L432 374.2 L435.8 376.2 L439.4 378.5 L443.2 380.4 L447.1 382.2 L450.8 384.2 L454.8 385.9 L458.3 388.4 L459.8 392.4 L460.5 396.7 L462.4 400.5 L466.5 400.7 L470.5 401.3 L474.5 402.2 L478.6 402.6 L479.1 407.3 L480.4 411.9 L480.6 416.7 L470.5 453.2 L466.4 457.3 L468.5 570.7 L468.5 634.4 L280 634.4 M425.9 360 L426 364.7 L425.5 369.5 L425.9 374.2 M363.9 371.3 L365.1 374.2 M468.5 570.7 L576.7 570.7 M576.7 646.9 L576.7 532.2 L683.3 532.2 L686.3 528.6 L689.9 525.7 L694.1 523.4 L697.4 520.1 M651.6 363.2 L651.2 367.5 L652.8 371.6 L653 375.8 L652.4 380.1 L652.9 384.3 L655.7 388.2 L657.7 392.5 L661.1 396.1 L663 400.5 L664.7 404.5 L666.7 408.4 L668.1 412.6 L669.2 416.9 L671.1 420.8 L673.1 424.4 L674.7 428.2 L676.7 431.7 L679.2 435 L678 440 L677.2 445.1 L674.1 447.4 L672.2 450.9 L669.1 453.2 L610.3 532.2 M576.7 647 L576.7 885 M97 663.9 L99.8 661.1 L102.6 658.3 L106.4 658 L110.1 658.5 L113.9 658.3 L114.8 653.2 L116.8 648.4 L120.7 646 L123.8 642.7 M97 786.9 L100 790.1 L102.3 793.8 L105.4 796.8 L102 800.7 L99.8 805.3 L97 806.7 M283.6 820.9 L279.3 820.5 L275.1 821.8 L270.8 821.4 L266.6 822.3 L262.2 823.9 L259 827.3 L254.5 828.7 L250.6 831 L246.8 833.6 L243.3 837.2 L240 840.9 L236.6 844.5 L232.7 847.7 L228.5 850 L223.9 851.3 L220 854.2 L215.7 856.2 L212.6 859.3 L208.8 861.7 L205.6 864.7 L202.1 867.3 L198.8 870.3 L194.9 871.5 L191 872.9 L187.1 874.4 L182.8 874.4 L179 876 L174.6 877.9 L170.7 880.6 L166.3 882.4 L162 884.5 M282 634.4 L277 634.3 L272 634.4 L267 634.4 L266.4 639.2 L267 644 L270 645 L270 804 L270 803.9 L273.8 805.7 L277.9 806.7 L278.9 810.2 L279.3 813.8 L281.7 817.2 L283.6 820.9 M104 100 L103.5 105 L102 107.5 L99 108.8"/>
<path id="provf" d="M296.2 150.8 L300.3 150.4 L304.3 151.8 L308.4 152.1 L312.4 152.8 L316.5 152.8 L320.5 153.2 L324.6 153.5 L328.7 153.7 L332.6 154.8 L336.7 154.8 L340 151.3 L343.6 148.2 L346.9 144.7 L351.6 145.8 L356.3 146 L361 147 L365.9 146.7 L370.5 147.7 L375.2 148.8 L375.7 153 L377.8 156.8 L379 160.8 L379.3 165 L383.2 167.8 L385.7 172 L389.4 175.1 L389 180.3 L387.4 185.2 L392 186.2 L396.5 187.2 L400.9 188.7 L405.6 189.3 L408.9 192.1 L412.1 195 L415.8 197.2 L418.2 201 L421.8 203.5 L423.5 206.8 L425.9 209.6 L448.2 262.2 M448.2 262.2 L452.3 261.6 L456.4 261.1 L460.4 260 L464.5 259.3 L468.5 258.2 L472.8 256 L476.7 253 L480.6 250.1 L479 246.2 L479.6 241.9 L479 237.8 L476.9 234 L476.6 229.8 L481.5 228.1 L486.7 227.8 M413.7 100.1 L416 103.6 L418.3 107.1 L420 111 L422.4 114.4 L423.9 118.4 L430 116.3 L432.9 119.6 L435.7 122.9 L437.7 126.9 L440.1 130.5 L443.2 126.9 L447.1 124 L450.2 120.4 L455 121.6 L459.8 122.6 L464.4 124.4 L467.5 121.8 L469.9 118.8 L472.2 115.5 L474.5 112.3 L474.8 108.2 L475.7 104.1 L476.6 100.1 M464.4 124.4 L465.2 128.8 L465.9 133.2 L467.2 137.5 L467.2 142 L467.4 146.5 L468.5 150.8 L467.4 154.8 L466.3 158.8 L465.8 162.9 L464.8 167 L464.4 171.1 L467.5 175 L471 178.6 L474.7 182 L478.6 185.2 L480.3 189.2 L481.4 193.4 L482.9 197.5 L484.7 201.5 L483.1 206.4 L482.6 211.6 L483.3 215.7 L484.7 219.7 L486.2 223.6 L486.7 227.8 M486.7 227.8 L491.3 226.9 L495.9 226.2 L500.6 226.3 L505.3 225.9 L509.8 224.4 L514.5 224.3 L519.1 223.7 L523.1 225.1 L527.3 225.1 L531.4 225.5 L535.3 227.1 L539.4 227.8 L543.4 231.8 L546.3 229.6 L549.5 227.8 L553 230.4 L555.6 233.9 L560.3 233.6 L565.1 233.1 L569.8 233.9 L572.3 237.7 L573.8 242 L614.4 244 L616.5 247.3 L618.9 250.4 L620.4 254.1 L624.9 256.5 L628.5 260.2 L628.9 264.3 L628.8 268.4 L629.5 272.4 L630.6 276.4 L635.1 276.1 L639.5 277.1 L644 275.7 L648.4 275.8 L652.9 276.4 L655.6 279 L656.9 282.5 L659.5 285.5 L660.8 289.3 L663 292.6 L666.8 295 L671.1 296.6 L675.1 298.7 L673.6 303 L673.2 307.5 L671.4 311.8 L670.9 316.3 L670 320.7 L669.1 325.1 L668.2 329.3 L666.5 333.2 L665.1 337.3 L663.2 341.1 L662.8 345.5 L661 349.4 L659 353.2 L656.1 356.4 L654.8 360.7 L652 364 M683.3 98.1 L683.2 102.4 L683.7 106.8 L683 111.1 L683.1 115.5 L683.9 119.8 L682.9 124.2 L683.3 128.5 L687.3 128.4 L691.4 128.2 L695.4 128.5 M683.3 128.5 L675.1 183.2 L665 240 L656.9 282.5 M448.2 262.2 L445.9 266.3 L444.3 270.7 L443.3 275.3 L441 279.5 L440 284.1 L437.7 288.2 L436 292.6 L435.2 296.9 L432.9 300.6 L431 304.5 L430 308.8 L429.5 313.1 L427.3 316.9 L425.9 321 L425.1 376.9 M296.2 260.2 L298.9 264.2 L301.7 268.3 L304.3 272.4 L307.7 275 L310.6 278.2 L313.5 281.4 L316.5 284.5 L320.2 286.4 L322.8 289.6 L326.5 291.5 L329.7 294 L332.7 296.7 L335.8 300.4 L338 304.6 L339.7 309.2 L342.8 312.9 L343.1 317.6 L343.4 322.4 L343 327.1 L342.1 331.8 L343.5 336.6 L342.8 341.3 L344.6 345.3 L346.3 349.2 L347.1 353.6 L348.9 357.5 L352.2 360.7 L355.8 363.5 L358.2 367.6 L362.1 370.3 L365.1 373.7 M425.9 360 L426 364.7 L425.5 369.5 L425.9 374.2 M363.9 371.3 L365.1 374.2 M468.5 570.7 L576.7 570.7 M651.6 363.2 L651.2 367.5 L652.8 371.6 L653 375.8 L652.4 380.1 L652.9 384.3 L655.7 388.2 L657.7 392.5 L661.1 396.1 L663 400.5 L664.7 404.5 L666.7 408.4 L668.1 412.6 L669.2 416.9 L671.1 420.8 L673.1 424.4 L674.7 428.2 L676.7 431.7 L679.2 435 L678 440 L677.2 445.1 L674.1 447.4 L672.2 450.9 L669.1 453.2 L610.3 532.2 M97 663.9 L99.8 661.1 L102.6 658.3 L106.4 658 L110.1 658.5 L113.9 658.3 L114.8 653.2 L116.8 648.4 L120.7 646 L123.8 642.7 M97 786.9 L100 790.1 L102.3 793.8 L105.4 796.8 L102 800.7 L99.8 805.3 L97 806.7 M283.6 820.9 L279.3 820.5 L275.1 821.8 L270.8 821.4 L266.6 822.3 L262.2 823.9 L259 827.3 L254.5 828.7 L250.6 831 L246.8 833.6 L243.3 837.2 L240 840.9 L236.6 844.5 L232.7 847.7 L228.5 850 L223.9 851.3 L220 854.2 L215.7 856.2 L212.6 859.3 L208.8 861.7 L205.6 864.7 L202.1 867.3 L198.8 870.3 L194.9 871.5 L191 872.9 L187.1 874.4 L182.8 874.4 L179 876 L174.6 877.9 L170.7 880.6 L166.3 882.4 L162 884.5 M104 100 L103.5 105 L102 107.5 L99 108.8 M324.6 374.2 L365.1 374.2 L389.4 380.3 L405.6 376.2 L432 374.2 L458.3 388.4 L462.4 400.5 L478.6 402.6 L480.6 416.7 L470.5 453.2 L466.4 457.3 L467.2 493.7 M576.7 532.2 L683.3 532.2 L697.4 520.1 M576.7 536 L576.7 580 M576.7 713 L576.7 765"/>
<g id="est"><path d="M647.32 846.83 L660.89 849.37 L660.89 852.77 L658.35 862.94 L657.07 874.82 L650.71 874.82 L647.32 862.09 L646.05 853.61Z" fill="none" stroke="none"/>
<path d="M634.6 807.81 L637.99 806.54 L641.38 805.27 L643.93 806.54 L645.62 808.66 L650.71 809.93 L655.8 811.2 L657.5 813.75 L659.19 816.29 L663.44 818.41 L667.68 819.69 L672.77 820.96 L677.01 822.23 L680.4 821.21 L682.94 820.96 L685.06 822.65 L687.18 823.5 L690.58 823.93 L694.39 823.93" fill="none" stroke="#111"/>
<path d="M635.45 808.24 L642.23 807.39 L638.84 809.93 L643.93 810.36 L638.84 812.9 L645.62 812.9 L649.86 811.2 L643.93 815.45 L650.71 814.6 L654.11 812.9 L647.32 817.99 L654.11 817.14 L643.93 819.69 L650.71 820.53 L655.8 818.84 L660.89 822.23 L654.11 822.23 L657.5 825.62 L664.28 823.93 L669.37 826.47 L662.59 827.32 L660.89 830.71 L665.98 829.86 L669.37 832.41" fill="none" stroke="#333"/>
<path d="M643.93 817.99 L643.08 823.93 L645.62 824.78 L642.23 829.02 L643.5 834.11 L646.47 838.35" fill="none" stroke="#111"/>
<path d="M657.5 823.08 L664.28 823.08 L669.37 825.62 L672.77 829.86 L674.46 835.8 L672.77 838.77 L668.52 836.23 L663.44 833.68 L660.04 831.56" fill="none" stroke="#111"/>
<path d="M651.56 834.11 L654.95 836.23 L660.89 838.35 L665.98 839.19 L664.28 840.89 L657.5 839.19" fill="none" stroke="#111"/>
<path d="M643.93 837.5 L647.32 838.35 L649.86 840.89 L654.11 841.74 L655.8 844.28 L660.89 847.68 L654.11 848.52 L650.71 848.52 L647.32 845.13 L644.78 842.59Z" fill="#111" stroke="#111"/>
<path d="M654.95 842.16 L660.04 843.44 L663.44 845.56 L663.01 848.1 L658.35 847.25 L655.38 845.13Z" fill="none" stroke="#111"/>
<path d="M645.62 875.67 L649.02 874.82 L656.65 876.51 L657.5 881.6 L656.65 884.15 L643.93 884.57 L644.78 879.06Z" fill="#ddd" stroke="#111"/>
<path d="M646.47 877.36 L654.11 878.21 L648.17 879.91 L655.8 881.18 L646.47 882.45 L654.95 883.3" fill="none" stroke="#222"/></g>
<filter id="noaa" x="-10%" y="-10%" width="120%" height="120%"><feOffset dx="0" dy="0"/></filter>
</defs>
<clipPath id="fr"><rect x="96" y="97" width="600" height="789"/></clipPath>
<g transform="translate(0 0) scale(1)">
<g clip-path="url(#fr)">
<g clip-path="url(#cb)"><rect x="90" y="90" width="620" height="800" fill="#F5A305"/>
<path d="M299.8 218.3 L291.9 226.2 L286.3 235.2 L278.3 242 L269.3 239.8 L260.2 244.3 L251.2 251.1 L247.8 254.9 L247.8 255 L244.4 273.1 L241 291.2 L241 322.9 L237.6 345.5 L230.8 368.1 L221.8 390.7 L215 408.8 L212.7 414.9 L209.3 437.6 L204.8 467 L203.7 489.6 L204.8 514.5 L202.6 537.1 L199.2 555.2 L192.4 574.9 L195 575 L206.3 595.4 L217.6 615.7 L225.5 633.8 L223.3 649.6 L217.6 667.7 L206.3 683.6 L190.5 697.1 L174.6 708.5 L164.5 714.1 L140 740 L90 740 L90 90 L330 90 L330 215Z" fill="#F55005"/>
<path d="M175.4 185.5 L181.1 194.5 L184.5 208.1 L186.7 210.4 L196.9 201.3 L210.5 194.5 L221.8 190 L225.2 183.2 L228.6 165.1 L237.6 151.6 L246.7 144.8 L258 136.8 L261.4 131.2 L275 90 L150 90 L150 186Z" fill="#F00000"/>
<path d="M647.32 846.83 L662.59 842.59 L665.98 849.37 L660.89 852.77 L658.35 862.94 L657.07 874.82 L650.71 874.82 L647.32 862.09 L646.05 853.61Z" fill="#F5F505"/>
</g>
<use href="#prov" fill="none" stroke="#5a5a5a" stroke-width="1.45"/>
<use href="#riv" fill="none" stroke="#6b5a4a" stroke-opacity="0.9" stroke-width="1.5"/>
<use href="#sub" fill="none" stroke="#111" stroke-width="1.5" stroke-linejoin="round"/>
<use href="#basin" fill="none" stroke="#111" stroke-width="2" stroke-linejoin="round"/>
<g stroke-width="1.5"><use href="#est"/></g>
</g></g>
<g filter="url(#noaa)"><rect x="96.5" y="97.5" width="600.0" height="788.7" fill="none" stroke="#0a0a0a" stroke-width="3.6"/>
<path d="M127.0 97.5v-5.4 M158.6 97.5v-8.8 M190.2 97.5v-5.4 M221.9 97.5v-8.8 M253.5 97.5v-5.4 M285.2 97.5v-8.8 M316.8 97.5v-5.4 M348.4 97.5v-8.8 M380.1 97.5v-5.4 M411.7 97.5v-8.8 M443.4 97.5v-5.4 M475.0 97.5v-8.8 M506.6 97.5v-5.4 M538.3 97.5v-8.8 M569.9 97.5v-5.4 M601.6 97.5v-8.8 M633.2 97.5v-5.4 M664.8 97.5v-8.8 M696.5 97.5v-5.4 M96.5 129.7h-8.8 M96.5 161.2h-5.4 M96.5 192.7h-8.8 M96.5 224.2h-5.4 M96.5 255.8h-8.8 M96.5 287.3h-5.4 M96.5 318.8h-8.8 M96.5 350.3h-5.4 M96.5 381.8h-8.8 M96.5 413.3h-5.4 M96.5 444.8h-8.8 M96.5 476.4h-5.4 M96.5 507.9h-8.8 M96.5 539.4h-5.4 M96.5 570.9h-8.8 M96.5 602.4h-5.4 M96.5 633.9h-8.8 M96.5 665.5h-5.4 M96.5 697.0h-8.8 M96.5 728.5h-5.4 M96.5 760.0h-8.8 M96.5 791.5h-5.4 M96.5 823.0h-8.8 M96.5 854.5h-5.4" stroke="#0a0a0a" stroke-width="1.7" fill="none"/>
<text x="120.6" y="81.2" font-size="24.3" textLength="76.0" lengthAdjust="spacingAndGlyphs" fill="#1a1a1a">-70° W</text>
<text x="247.2" y="81.2" font-size="24.3" textLength="76.0" lengthAdjust="spacingAndGlyphs" fill="#1a1a1a">-68° W</text>
<text x="373.7" y="81.2" font-size="24.3" textLength="76.0" lengthAdjust="spacingAndGlyphs" fill="#1a1a1a">-66° W</text>
<text x="500.3" y="81.2" font-size="24.3" textLength="76.0" lengthAdjust="spacingAndGlyphs" fill="#1a1a1a">-64° W</text>
<text x="626.8" y="81.2" font-size="24.3" textLength="76.0" lengthAdjust="spacingAndGlyphs" fill="#1a1a1a">-62° W</text>
<text x="15.9" y="138.9" font-size="24.3" textLength="68.0" lengthAdjust="spacingAndGlyphs" fill="#1a1a1a">-28° S</text>
<text x="15.9" y="201.9" font-size="24.3" textLength="68.0" lengthAdjust="spacingAndGlyphs" fill="#1a1a1a">-29° S</text>
<text x="15.9" y="265.0" font-size="24.3" textLength="68.0" lengthAdjust="spacingAndGlyphs" fill="#1a1a1a">-30° S</text>
<text x="15.9" y="328.0" font-size="24.3" textLength="68.0" lengthAdjust="spacingAndGlyphs" fill="#1a1a1a">-31° S</text>
<text x="15.9" y="391.0" font-size="24.3" textLength="68.0" lengthAdjust="spacingAndGlyphs" fill="#1a1a1a">-32° S</text>
<text x="15.9" y="454.0" font-size="24.3" textLength="68.0" lengthAdjust="spacingAndGlyphs" fill="#1a1a1a">-33° S</text>
<text x="15.9" y="517.1" font-size="24.3" textLength="68.0" lengthAdjust="spacingAndGlyphs" fill="#1a1a1a">-34° S</text>
<text x="15.9" y="580.1" font-size="24.3" textLength="68.0" lengthAdjust="spacingAndGlyphs" fill="#1a1a1a">-35° S</text>
<text x="15.9" y="643.1" font-size="24.3" textLength="68.0" lengthAdjust="spacingAndGlyphs" fill="#1a1a1a">-36° S</text>
<text x="15.9" y="706.2" font-size="24.3" textLength="68.0" lengthAdjust="spacingAndGlyphs" fill="#1a1a1a">-37° S</text>
<text x="15.9" y="769.2" font-size="24.3" textLength="68.0" lengthAdjust="spacingAndGlyphs" fill="#1a1a1a">-38° S</text>
<text x="15.9" y="832.2" font-size="24.3" textLength="68.0" lengthAdjust="spacingAndGlyphs" fill="#1a1a1a">-39° S</text>
<text x="264" y="39" font-size="28.5" font-weight="bold" textLength="35.5" lengthAdjust="spacingAndGlyphs" fill="#111">(a)</text><text x="317.7" y="39" font-size="28.5" font-weight="bold" textLength="185.3" lengthAdjust="spacingAndGlyphs" fill="#111">Ensemble (°C)</text></g>
<g transform="translate(712.5 51.9) scale(0.4596)">
<g clip-path="url(#fr)">
<g clip-path="url(#cb)"><rect x="90" y="90" width="620" height="800" fill="#F55005"/>
<path d="M293.8 276.7 L286.5 289.6 L284.6 304.4 L299.4 322.8 L288.3 345 L295.7 370.8 L280.9 385.6 L258.8 393 L236.6 404 L225.6 418.8 L218.2 437.3 L207.1 455.7 L199.7 481.6 L203.5 498.3 L215.4 528.1 L236.2 557.8 L254.1 593.5 L266 629.2 L268.9 664.8 L260 700.5 L242.2 721.3 L224.3 733.2 L160 760 L160 900 L710 900 L710 300 L340 240Z" fill="#F5A305"/>
<path d="M303.1 228.7 L321.5 230.5 L321.5 245.3 L303.1 245.3Z" fill="#F5A305"/>
<path d="M207.1 156.7 L218.2 145.6 L229.2 140.1 L234.8 147.5 L231.1 171.5 L221.9 186.3 L207.1 191.8 L201.6 175.2Z" fill="#F00000"/>
<path d="M164.6 254.5 L177.6 250.9 L186.8 258.2 L192.3 278.5 L210.8 289.6 L216.3 308.1 L218.2 341.3 L210.8 370.8 L203.4 389.3 L192.3 385.6 L173.9 370.8 L159.1 348.7 L153.6 311.8 L151.7 282.2 L166.5 271.2Z" fill="#F00000"/>
<path d="M202.7 232.8 L205.6 232.8 L205.6 235.7 L202.7 235.7Z" fill="#F00000"/>
</g>
<use href="#prov" fill="none" stroke="#5a5a5a" stroke-width="1.74064"/>
<use href="#riv" fill="none" stroke="#6b5a4a" stroke-opacity="0.9" stroke-width="1.74064"/>
<use href="#sub" fill="none" stroke="#111" stroke-width="1.74064" stroke-linejoin="round"/>
<use href="#basin" fill="none" stroke="#111" stroke-width="2.17581" stroke-linejoin="round"/>
<g stroke-width="1.74064"><use href="#est"/></g>
</g></g>
<g filter="url(#noaa)"><rect x="756.9" y="96.7" width="275.8" height="362.5" fill="none" stroke="#2a2a2a" stroke-width="2.2"/>
<path d="M770.9 96.7v-2.4 M785.4 96.7v-3.7 M799.9 96.7v-2.4 M814.5 96.7v-3.7 M829.0 96.7v-2.4 M843.6 96.7v-3.7 M858.1 96.7v-2.4 M872.6 96.7v-3.7 M887.2 96.7v-2.4 M901.7 96.7v-3.7 M916.3 96.7v-2.4 M930.8 96.7v-3.7 M945.4 96.7v-2.4 M959.9 96.7v-3.7 M974.4 96.7v-2.4 M989.0 96.7v-3.7 M1003.5 96.7v-2.4 M1018.1 96.7v-3.7 M1032.6 96.7v-2.4 M756.9 111.5h-3.7 M756.9 126.0h-2.4 M756.9 140.5h-3.7 M756.9 155.0h-2.4 M756.9 169.4h-3.7 M756.9 183.9h-2.4 M756.9 198.4h-3.7 M756.9 212.9h-2.4 M756.9 227.4h-3.7 M756.9 241.9h-2.4 M756.9 256.4h-3.7 M756.9 270.8h-2.4 M756.9 285.3h-3.7 M756.9 299.8h-2.4 M756.9 314.3h-3.7 M756.9 328.8h-2.4 M756.9 343.3h-3.7 M756.9 357.7h-2.4 M756.9 372.2h-3.7 M756.9 386.7h-2.4 M756.9 401.2h-3.7 M756.9 415.7h-2.4 M756.9 430.2h-3.7 M756.9 444.6h-2.4" stroke="#0a0a0a" stroke-width="0.9" fill="none"/>
<text x="767.6" y="88.9" font-size="11.4" textLength="35.6" lengthAdjust="spacingAndGlyphs" fill="#3e3e3e">-70° W</text>
<text x="825.8" y="88.9" font-size="11.4" textLength="35.6" lengthAdjust="spacingAndGlyphs" fill="#3e3e3e">-68° W</text>
<text x="883.9" y="88.9" font-size="11.4" textLength="35.6" lengthAdjust="spacingAndGlyphs" fill="#3e3e3e">-66° W</text>
<text x="942.1" y="88.9" font-size="11.4" textLength="35.6" lengthAdjust="spacingAndGlyphs" fill="#3e3e3e">-64° W</text>
<text x="1000.3" y="88.9" font-size="11.4" textLength="35.6" lengthAdjust="spacingAndGlyphs" fill="#3e3e3e">-62° W</text>
<text x="720.0" y="115.8" font-size="11.4" textLength="31.3" lengthAdjust="spacingAndGlyphs" fill="#3e3e3e">-28° S</text>
<text x="720.0" y="144.8" font-size="11.4" textLength="31.3" lengthAdjust="spacingAndGlyphs" fill="#3e3e3e">-29° S</text>
<text x="720.0" y="173.7" font-size="11.4" textLength="31.3" lengthAdjust="spacingAndGlyphs" fill="#3e3e3e">-30° S</text>
<text x="720.0" y="202.7" font-size="11.4" textLength="31.3" lengthAdjust="spacingAndGlyphs" fill="#3e3e3e">-31° S</text>
<text x="720.0" y="231.7" font-size="11.4" textLength="31.3" lengthAdjust="spacingAndGlyphs" fill="#3e3e3e">-32° S</text>
<text x="720.0" y="260.7" font-size="11.4" textLength="31.3" lengthAdjust="spacingAndGlyphs" fill="#3e3e3e">-33° S</text>
<text x="720.0" y="289.6" font-size="11.4" textLength="31.3" lengthAdjust="spacingAndGlyphs" fill="#3e3e3e">-34° S</text>
<text x="720.0" y="318.6" font-size="11.4" textLength="31.3" lengthAdjust="spacingAndGlyphs" fill="#3e3e3e">-35° S</text>
<text x="720.0" y="347.6" font-size="11.4" textLength="31.3" lengthAdjust="spacingAndGlyphs" fill="#3e3e3e">-36° S</text>
<text x="720.0" y="376.5" font-size="11.4" textLength="31.3" lengthAdjust="spacingAndGlyphs" fill="#3e3e3e">-37° S</text>
<text x="720.0" y="405.5" font-size="11.4" textLength="31.3" lengthAdjust="spacingAndGlyphs" fill="#3e3e3e">-38° S</text>
<text x="720.0" y="434.5" font-size="11.4" textLength="31.3" lengthAdjust="spacingAndGlyphs" fill="#3e3e3e">-39° S</text>
<text x="784.4" y="63.1" font-size="24" font-weight="bold" textLength="28" lengthAdjust="spacingAndGlyphs" fill="#111">(b)</text><text x="838.3" y="63.1" font-size="24" font-weight="bold" textLength="161" lengthAdjust="spacingAndGlyphs" fill="#111">EC-Earth3P-HR</text></g>
<g transform="translate(711.7 481.4) scale(0.4596)">
<g clip-path="url(#fr)">
<g clip-path="url(#cb)"><rect x="90" y="90" width="620" height="800" fill="#F55005"/>
<path d="M301.1 192.9 L275.3 196.6 L253.1 204 L238.4 216.9 L231 239 L218.1 253.8 L210.7 275.9 L214.4 298.1 L210.7 323.9 L207 349.8 L208.8 375.6 L203.3 401.4 L201.5 431 L201.5 460.5 L199.6 490 L199.3 475.6 L199.3 499.4 L196.3 523.2 L178.5 535.1 L172.5 564.8 L175.5 606.5 L178.5 636.2 L166.6 660 L154.7 683.8 L142.8 695.7 L113.1 535.1 L157.7 532.1 L181.5 523.2 L184.4 505.4 L187.4 475.6 L188.5 490 L190.4 467.9 L192.2 438.3 L188.5 416.2 L183 397.7 L175.6 397.7 L170.1 386.7 L162.7 364.5 L157.2 342.4 L149.8 331.3 L142.4 338.7 L139.4 357.1 L138.7 379.3 L120.2 379.3 L120.2 84 L312.2 84Z" fill="#F00000"/>
<path d="M370.6 558.5 L360.8 570.8 L358.3 583.1 L352.1 593 L341.1 597.9 L330 599.1 L333.7 610.2 L338.6 627.4 L334.9 642.2 L328.8 652 L311.5 664.3 L300.5 676.6 L295.5 693.9 L299.2 713.6 L311.5 728.3 L321.4 743.1 L333.7 760.3 L336.1 777.5 L334.9 797.2 L334.9 839.1 L552.7 962.1 L848 962.1 L848 593 L429.7 578.2 L405 578.2 L400.1 583.1 L401.4 600.4 L405 617.6 L402.6 629.9 L395.2 637.3 L389.1 629.9 L386.6 617.6 L390.3 600.4 L387.8 583.1 L380.4 568.4Z" fill="#F47D02"/>
</g>
<use href="#prov" fill="none" stroke="#5a5a5a" stroke-width="1.74064"/>
<use href="#riv" fill="none" stroke="#6b5a4a" stroke-opacity="0.9" stroke-width="1.74064"/>
<use href="#sub" fill="none" stroke="#111" stroke-width="1.74064" stroke-linejoin="round"/>
<use href="#basin" fill="none" stroke="#111" stroke-width="2.17581" stroke-linejoin="round"/>
<g stroke-width="1.74064"><use href="#est"/></g>
</g></g>
<g filter="url(#noaa)"><rect x="756.1" y="526.2" width="275.8" height="362.5" fill="none" stroke="#2a2a2a" stroke-width="2.2"/>
<path d="M770.1 526.2v-2.4 M784.6 526.2v-3.7 M799.1 526.2v-2.4 M813.7 526.2v-3.7 M828.2 526.2v-2.4 M842.8 526.2v-3.7 M857.3 526.2v-2.4 M871.8 526.2v-3.7 M886.4 526.2v-2.4 M900.9 526.2v-3.7 M915.5 526.2v-2.4 M930.0 526.2v-3.7 M944.6 526.2v-2.4 M959.1 526.2v-3.7 M973.6 526.2v-2.4 M988.2 526.2v-3.7 M1002.7 526.2v-2.4 M1017.3 526.2v-3.7 M1031.8 526.2v-2.4 M756.1 541.0h-3.7 M756.1 555.5h-2.4 M756.1 570.0h-3.7 M756.1 584.5h-2.4 M756.1 598.9h-3.7 M756.1 613.4h-2.4 M756.1 627.9h-3.7 M756.1 642.4h-2.4 M756.1 656.9h-3.7 M756.1 671.4h-2.4 M756.1 685.9h-3.7 M756.1 700.3h-2.4 M756.1 714.8h-3.7 M756.1 729.3h-2.4 M756.1 743.8h-3.7 M756.1 758.3h-2.4 M756.1 772.8h-3.7 M756.1 787.2h-2.4 M756.1 801.7h-3.7 M756.1 816.2h-2.4 M756.1 830.7h-3.7 M756.1 845.2h-2.4 M756.1 859.7h-3.7 M756.1 874.1h-2.4" stroke="#0a0a0a" stroke-width="0.9" fill="none"/>
<text x="766.8" y="518.4" font-size="11.4" textLength="35.6" lengthAdjust="spacingAndGlyphs" fill="#3e3e3e">-70° W</text>
<text x="825.0" y="518.4" font-size="11.4" textLength="35.6" lengthAdjust="spacingAndGlyphs" fill="#3e3e3e">-68° W</text>
<text x="883.1" y="518.4" font-size="11.4" textLength="35.6" lengthAdjust="spacingAndGlyphs" fill="#3e3e3e">-66° W</text>
<text x="941.3" y="518.4" font-size="11.4" textLength="35.6" lengthAdjust="spacingAndGlyphs" fill="#3e3e3e">-64° W</text>
<text x="999.5" y="518.4" font-size="11.4" textLength="35.6" lengthAdjust="spacingAndGlyphs" fill="#3e3e3e">-62° W</text>
<text x="719.2" y="545.3" font-size="11.4" textLength="31.3" lengthAdjust="spacingAndGlyphs" fill="#3e3e3e">-28° S</text>
<text x="719.2" y="574.3" font-size="11.4" textLength="31.3" lengthAdjust="spacingAndGlyphs" fill="#3e3e3e">-29° S</text>
<text x="719.2" y="603.2" font-size="11.4" textLength="31.3" lengthAdjust="spacingAndGlyphs" fill="#3e3e3e">-30° S</text>
<text x="719.2" y="632.2" font-size="11.4" textLength="31.3" lengthAdjust="spacingAndGlyphs" fill="#3e3e3e">-31° S</text>
<text x="719.2" y="661.2" font-size="11.4" textLength="31.3" lengthAdjust="spacingAndGlyphs" fill="#3e3e3e">-32° S</text>
<text x="719.2" y="690.2" font-size="11.4" textLength="31.3" lengthAdjust="spacingAndGlyphs" fill="#3e3e3e">-33° S</text>
<text x="719.2" y="719.1" font-size="11.4" textLength="31.3" lengthAdjust="spacingAndGlyphs" fill="#3e3e3e">-34° S</text>
<text x="719.2" y="748.1" font-size="11.4" textLength="31.3" lengthAdjust="spacingAndGlyphs" fill="#3e3e3e">-35° S</text>
<text x="719.2" y="777.1" font-size="11.4" textLength="31.3" lengthAdjust="spacingAndGlyphs" fill="#3e3e3e">-36° S</text>
<text x="719.2" y="806.0" font-size="11.4" textLength="31.3" lengthAdjust="spacingAndGlyphs" fill="#3e3e3e">-37° S</text>
<text x="719.2" y="835.0" font-size="11.4" textLength="31.3" lengthAdjust="spacingAndGlyphs" fill="#3e3e3e">-38° S</text>
<text x="719.2" y="864.0" font-size="11.4" textLength="31.3" lengthAdjust="spacingAndGlyphs" fill="#3e3e3e">-39° S</text>
<text x="767.2" y="495.8" font-size="24" font-weight="bold" textLength="257.2" lengthAdjust="spacingAndGlyphs" fill="#111">(c) HadGEM3-GC31-HM</text></g>
<g transform="translate(22.1 917.8) scale(0.4596)">
<g clip-path="url(#fr)">
<g clip-path="url(#cb)"><rect x="90" y="90" width="620" height="800" fill="#F5A305"/>
<path d="M330 210.3 L296.8 217.7 L282 225.1 L267.2 228.8 L263.5 239.9 L256.1 247.2 L252.5 262 L245.1 269.4 L222.9 267.5 L208.2 273.1 L204.5 291.5 L208.2 321.1 L213.7 350.6 L215.5 376.4 L211.9 402.3 L206.3 424.4 L204.5 454 L200.8 476.1 L199.4 461.7 L205.4 497.4 L202.4 533.1 L193.5 556.9 L190.5 580.6 L208.4 601.5 L238.1 610.4 L250 628.2 L261.9 658 L267.8 687.7 L276.8 717.4 L285.7 729.3 L297.6 705.5 L321.4 684.7 L351.1 675.8 L380.8 672.8 L410.6 678.8 L434.4 690.7 L487.9 690.7 L547.3 521.2Z" fill="#F5F505"/>
<path d="M481.9 794.7 L499.8 794.7 L702.6 794.7 L702.6 897 L606.8 897 L487.9 824.5Z" fill="#F5F505"/>
<path d="M288.7 759.1 L300.5 756.1 L312.4 771 L306.5 782.8 L288.7 779.9Z" fill="#F5F505"/>
<path d="M256.1 276.8 L263.5 274.9 L274.6 284.2 L282 298.9 L278.3 306.3 L267.2 306.3 L258 297.1 L255 286Z" fill="#F5A305"/>
<path d="M294.6 631.2 L309.5 631.2 L315.4 646.1 L300.5 646.1Z" fill="#F5A305"/>
<path d="M221.1 99.6 L234 118 L226.6 129.1 L219.2 147.6 L213.7 162.3 L204.5 173.4 L193.4 184.5 L187.9 199.3 L187.9 217.7 L178.6 232.5 L169.4 239.9 L145.4 239.9 L145.4 99.6Z" fill="#F55005"/>
<path d="M138 280.5 L169.4 278.6 L173.1 287.8 L163.9 297.1 L150.9 298.9 L138 297.1Z" fill="#F55005"/>
<path d="M115.9 328.5 L145.4 315.5 L156.5 321.1 L160.2 335.8 L158.3 358 L149.1 372.7 L138 369.1 L130.6 354.3 L115.9 350.6Z" fill="#F55005"/>
<path d="M130.6 380.1 L150.9 383.8 L162 394.9 L156.5 406 L149.1 402.3 L130.6 402.3Z" fill="#F55005"/>
<path d="M141.7 418.9 L163.9 420.7 L178.6 430 L186 442.9 L182.3 457.6 L178.6 472.4 L180.5 487.2 L181.6 461.7 L178.6 491.4 L172.7 509.3 L142.9 512.3 L131.1 461.7 L141.7 476.1Z" fill="#F55005"/>
<path d="M217.4 99.6 L228.5 109.9 L219.2 118.8 L213.7 110.7Z" fill="#F00000"/>
</g>
<use href="#prov" fill="none" stroke="#5a5a5a" stroke-width="1.74064"/>
<use href="#riv" fill="none" stroke="#6b5a4a" stroke-opacity="0.9" stroke-width="1.74064"/>
<use href="#sub" fill="none" stroke="#111" stroke-width="1.74064" stroke-linejoin="round"/>
<use href="#basin" fill="none" stroke="#111" stroke-width="2.17581" stroke-linejoin="round"/>
<g stroke-width="1.74064"><use href="#est"/></g>
</g></g>
<g filter="url(#noaa)"><rect x="66.5" y="962.6" width="275.8" height="362.5" fill="none" stroke="#2a2a2a" stroke-width="2.2"/>
<path d="M80.5 962.6v-2.4 M95.0 962.6v-3.7 M109.5 962.6v-2.4 M124.1 962.6v-3.7 M138.6 962.6v-2.4 M153.2 962.6v-3.7 M167.7 962.6v-2.4 M182.2 962.6v-3.7 M196.8 962.6v-2.4 M211.3 962.6v-3.7 M225.9 962.6v-2.4 M240.4 962.6v-3.7 M255.0 962.6v-2.4 M269.5 962.6v-3.7 M284.0 962.6v-2.4 M298.6 962.6v-3.7 M313.1 962.6v-2.4 M327.7 962.6v-3.7 M342.2 962.6v-2.4 M66.5 977.4h-3.7 M66.5 991.9h-2.4 M66.5 1006.4h-3.7 M66.5 1020.9h-2.4 M66.5 1035.3h-3.7 M66.5 1049.8h-2.4 M66.5 1064.3h-3.7 M66.5 1078.8h-2.4 M66.5 1093.3h-3.7 M66.5 1107.8h-2.4 M66.5 1122.3h-3.7 M66.5 1136.7h-2.4 M66.5 1151.2h-3.7 M66.5 1165.7h-2.4 M66.5 1180.2h-3.7 M66.5 1194.7h-2.4 M66.5 1209.2h-3.7 M66.5 1223.6h-2.4 M66.5 1238.1h-3.7 M66.5 1252.6h-2.4 M66.5 1267.1h-3.7 M66.5 1281.6h-2.4 M66.5 1296.1h-3.7 M66.5 1310.5h-2.4" stroke="#0a0a0a" stroke-width="0.9" fill="none"/>
<text x="77.2" y="954.8" font-size="11.4" textLength="35.6" lengthAdjust="spacingAndGlyphs" fill="#3e3e3e">-70° W</text>
<text x="135.4" y="954.8" font-size="11.4" textLength="35.6" lengthAdjust="spacingAndGlyphs" fill="#3e3e3e">-68° W</text>
<text x="193.5" y="954.8" font-size="11.4" textLength="35.6" lengthAdjust="spacingAndGlyphs" fill="#3e3e3e">-66° W</text>
<text x="251.7" y="954.8" font-size="11.4" textLength="35.6" lengthAdjust="spacingAndGlyphs" fill="#3e3e3e">-64° W</text>
<text x="309.9" y="954.8" font-size="11.4" textLength="35.6" lengthAdjust="spacingAndGlyphs" fill="#3e3e3e">-62° W</text>
<text x="29.6" y="981.7" font-size="11.4" textLength="31.3" lengthAdjust="spacingAndGlyphs" fill="#3e3e3e">-28° S</text>
<text x="29.6" y="1010.7" font-size="11.4" textLength="31.3" lengthAdjust="spacingAndGlyphs" fill="#3e3e3e">-29° S</text>
<text x="29.6" y="1039.6" font-size="11.4" textLength="31.3" lengthAdjust="spacingAndGlyphs" fill="#3e3e3e">-30° S</text>
<text x="29.6" y="1068.6" font-size="11.4" textLength="31.3" lengthAdjust="spacingAndGlyphs" fill="#3e3e3e">-31° S</text>
<text x="29.6" y="1097.6" font-size="11.4" textLength="31.3" lengthAdjust="spacingAndGlyphs" fill="#3e3e3e">-32° S</text>
<text x="29.6" y="1126.6" font-size="11.4" textLength="31.3" lengthAdjust="spacingAndGlyphs" fill="#3e3e3e">-33° S</text>
<text x="29.6" y="1155.5" font-size="11.4" textLength="31.3" lengthAdjust="spacingAndGlyphs" fill="#3e3e3e">-34° S</text>
<text x="29.6" y="1184.5" font-size="11.4" textLength="31.3" lengthAdjust="spacingAndGlyphs" fill="#3e3e3e">-35° S</text>
<text x="29.6" y="1213.5" font-size="11.4" textLength="31.3" lengthAdjust="spacingAndGlyphs" fill="#3e3e3e">-36° S</text>
<text x="29.6" y="1242.4" font-size="11.4" textLength="31.3" lengthAdjust="spacingAndGlyphs" fill="#3e3e3e">-37° S</text>
<text x="29.6" y="1271.4" font-size="11.4" textLength="31.3" lengthAdjust="spacingAndGlyphs" fill="#3e3e3e">-38° S</text>
<text x="29.6" y="1300.4" font-size="11.4" textLength="31.3" lengthAdjust="spacingAndGlyphs" fill="#3e3e3e">-39° S</text>
<text x="101.8" y="929" font-size="24" font-weight="bold" textLength="28.8" lengthAdjust="spacingAndGlyphs" fill="#111">(d)</text><text x="155.4" y="929" font-size="24" font-weight="bold" textLength="157.5" lengthAdjust="spacingAndGlyphs" fill="#111">HiRAM-SIT-HR</text></g>
<g transform="translate(369.3 917.8) scale(0.4596)">
<g clip-path="url(#fr)">
<g clip-path="url(#cb)"><rect x="90" y="90" width="620" height="800" fill="#F55005"/>
<path d="M273.5 125.4 L266.1 147.6 L251.4 162.3 L240.3 180.8 L232.9 199.3 L221.8 217.7 L208.9 225.1 L203.4 239.9 L203.4 269.4 L201.5 298.9 L192.3 311.8 L177.5 313.7 L166.5 304.5 L159.1 295.2 L149.9 291.5 L133.2 298.9 L133.2 92.2 L273.5 92.2Z" fill="#F00000"/>
<path d="M153.5 407.8 L166.5 394.9 L184.9 385.7 L194.1 391.2 L190.5 402.3 L173.8 413.4 L162.8 426.3 L153.5 430 L144.3 424.4Z" fill="#F00000"/>
<path d="M303 228.8 L325.2 232.5 L325.2 247.2 L295.7 254.6 L293.8 239.9Z" fill="#F5A305"/>
<path d="M251.4 236.2 L262.4 236.2 L273.5 247.2 L277.2 269.4 L277.2 298.9 L273.5 321.1 L262.4 339.5 L247.7 354.3 L240.3 365.4 L247.7 376.4 L255.1 391.2 L251.4 413.4 L251.4 424.4 L266.1 435.5 L288.3 446.6 L310.4 461.3 L332.6 472.4 L340 487.2 L340.4 485.5 L355.2 497.4 L376 485.5 L447.4 497.4 L447.4 678.8 L432.5 684.7 L438.5 711.5 L423.6 735.3 L411.7 765 L423.6 782.8 L447.4 800.7 L465.3 812.6 L465.3 878 L126.3 878 L126.3 711.5 L156 699.6 L173.8 687.7 L197.6 666.9 L212.5 640.1 L209.5 604.4 L200.6 568.8 L197.6 533.1 L200.6 497.4 L203.6 461.7 L199.7 479.8 L207.1 454 L214.4 424.4 L218.1 394.9 L218.1 358 L220 328.5 L229.2 306.3 L232.9 276.8 L240.3 254.6Z" fill="#F5A305"/>
<path d="M292 276.8 L325.2 276.8 L347.3 380.1 L325.2 380.1 L317.8 376.4 L306.7 365.4 L295.7 343.2 L293.8 321.1 L290.1 298.9Z" fill="#F5A305"/>
<path d="M358.4 428.1 L373.2 428.1 L373.2 457.6 L360.3 457.6 L356.6 442.9Z" fill="#F5A305"/>
<path d="M432.5 678.8 L438.5 711.5 L423.6 735.3 L411.7 765 L423.6 782.8 L447.4 800.7 L465.3 812.6 L483.1 897 L697.8 897 L697.8 759.1 L495 658Z" fill="#F5F505"/>
<path d="M593.1 863.1 L613.9 857.2 L634.7 863.1 L631.8 875 L608 875Z" fill="#F5A305"/>
</g>
<use href="#prov" fill="none" stroke="#5a5a5a" stroke-width="1.74064"/>
<use href="#riv" fill="none" stroke="#6b5a4a" stroke-opacity="0.9" stroke-width="1.74064"/>
<use href="#sub" fill="none" stroke="#111" stroke-width="1.74064" stroke-linejoin="round"/>
<use href="#basin" fill="none" stroke="#111" stroke-width="2.17581" stroke-linejoin="round"/>
<g stroke-width="1.74064"><use href="#est"/></g>
</g></g>
<g filter="url(#noaa)"><rect x="413.7" y="962.6" width="275.8" height="362.5" fill="none" stroke="#2a2a2a" stroke-width="2.2"/>
<path d="M427.7 962.6v-2.4 M442.2 962.6v-3.7 M456.7 962.6v-2.4 M471.3 962.6v-3.7 M485.8 962.6v-2.4 M500.4 962.6v-3.7 M514.9 962.6v-2.4 M529.4 962.6v-3.7 M544.0 962.6v-2.4 M558.5 962.6v-3.7 M573.1 962.6v-2.4 M587.6 962.6v-3.7 M602.2 962.6v-2.4 M616.7 962.6v-3.7 M631.2 962.6v-2.4 M645.8 962.6v-3.7 M660.3 962.6v-2.4 M674.9 962.6v-3.7 M689.4 962.6v-2.4 M413.7 977.4h-3.7 M413.7 991.9h-2.4 M413.7 1006.4h-3.7 M413.7 1020.9h-2.4 M413.7 1035.3h-3.7 M413.7 1049.8h-2.4 M413.7 1064.3h-3.7 M413.7 1078.8h-2.4 M413.7 1093.3h-3.7 M413.7 1107.8h-2.4 M413.7 1122.3h-3.7 M413.7 1136.7h-2.4 M413.7 1151.2h-3.7 M413.7 1165.7h-2.4 M413.7 1180.2h-3.7 M413.7 1194.7h-2.4 M413.7 1209.2h-3.7 M413.7 1223.6h-2.4 M413.7 1238.1h-3.7 M413.7 1252.6h-2.4 M413.7 1267.1h-3.7 M413.7 1281.6h-2.4 M413.7 1296.1h-3.7 M413.7 1310.5h-2.4" stroke="#0a0a0a" stroke-width="0.9" fill="none"/>
<text x="424.4" y="954.8" font-size="11.4" textLength="35.6" lengthAdjust="spacingAndGlyphs" fill="#3e3e3e">-70° W</text>
<text x="482.6" y="954.8" font-size="11.4" textLength="35.6" lengthAdjust="spacingAndGlyphs" fill="#3e3e3e">-68° W</text>
<text x="540.7" y="954.8" font-size="11.4" textLength="35.6" lengthAdjust="spacingAndGlyphs" fill="#3e3e3e">-66° W</text>
<text x="598.9" y="954.8" font-size="11.4" textLength="35.6" lengthAdjust="spacingAndGlyphs" fill="#3e3e3e">-64° W</text>
<text x="657.1" y="954.8" font-size="11.4" textLength="35.6" lengthAdjust="spacingAndGlyphs" fill="#3e3e3e">-62° W</text>
<text x="376.8" y="981.7" font-size="11.4" textLength="31.3" lengthAdjust="spacingAndGlyphs" fill="#3e3e3e">-28° S</text>
<text x="376.8" y="1010.7" font-size="11.4" textLength="31.3" lengthAdjust="spacingAndGlyphs" fill="#3e3e3e">-29° S</text>
<text x="376.8" y="1039.6" font-size="11.4" textLength="31.3" lengthAdjust="spacingAndGlyphs" fill="#3e3e3e">-30° S</text>
<text x="376.8" y="1068.6" font-size="11.4" textLength="31.3" lengthAdjust="spacingAndGlyphs" fill="#3e3e3e">-31° S</text>
<text x="376.8" y="1097.6" font-size="11.4" textLength="31.3" lengthAdjust="spacingAndGlyphs" fill="#3e3e3e">-32° S</text>
<text x="376.8" y="1126.6" font-size="11.4" textLength="31.3" lengthAdjust="spacingAndGlyphs" fill="#3e3e3e">-33° S</text>
<text x="376.8" y="1155.5" font-size="11.4" textLength="31.3" lengthAdjust="spacingAndGlyphs" fill="#3e3e3e">-34° S</text>
<text x="376.8" y="1184.5" font-size="11.4" textLength="31.3" lengthAdjust="spacingAndGlyphs" fill="#3e3e3e">-35° S</text>
<text x="376.8" y="1213.5" font-size="11.4" textLength="31.3" lengthAdjust="spacingAndGlyphs" fill="#3e3e3e">-36° S</text>
<text x="376.8" y="1242.4" font-size="11.4" textLength="31.3" lengthAdjust="spacingAndGlyphs" fill="#3e3e3e">-37° S</text>
<text x="376.8" y="1271.4" font-size="11.4" textLength="31.3" lengthAdjust="spacingAndGlyphs" fill="#3e3e3e">-38° S</text>
<text x="376.8" y="1300.4" font-size="11.4" textLength="31.3" lengthAdjust="spacingAndGlyphs" fill="#3e3e3e">-39° S</text>
<text x="441" y="929" font-size="24" font-weight="bold" textLength="28.3" lengthAdjust="spacingAndGlyphs" fill="#111">(e)</text><text x="477.7" y="929" font-size="24" font-weight="bold" textLength="188.6" lengthAdjust="spacingAndGlyphs" fill="#111">CNRM-CM6-1-HR</text></g>
<g transform="translate(712.3 917.6) scale(0.4596)">
<g clip-path="url(#fr)">
<g clip-path="url(#cb)"><rect x="90" y="90" width="620" height="800" fill="#F55005"/>
<path d="M293.8 276.7 L286.5 289.6 L284.6 304.4 L299.4 322.8 L288.3 345 L295.7 370.8 L280.9 385.6 L258.8 393 L236.6 404 L225.6 418.8 L218.2 437.3 L207.1 455.7 L199.7 481.6 L203.5 498.3 L215.4 528.1 L236.2 557.8 L254.1 593.5 L266 629.2 L268.9 664.8 L260 700.5 L242.2 721.3 L224.3 733.2 L160 760 L160 900 L710 900 L710 300 L340 240Z" fill="#F5A305"/>
<path d="M303.1 228.7 L321.5 230.5 L321.5 245.3 L303.1 245.3Z" fill="#F5A305"/>
<path d="M207.1 156.7 L218.2 145.6 L229.2 140.1 L234.8 147.5 L231.1 171.5 L221.9 186.3 L207.1 191.8 L201.6 175.2Z" fill="#F00000"/>
<path d="M164.6 254.5 L177.6 250.9 L186.8 258.2 L192.3 278.5 L210.8 289.6 L216.3 308.1 L218.2 341.3 L210.8 370.8 L203.4 389.3 L192.3 385.6 L173.9 370.8 L159.1 348.7 L153.6 311.8 L151.7 282.2 L166.5 271.2Z" fill="#F00000"/>
<path d="M202.7 232.8 L205.6 232.8 L205.6 235.7 L202.7 235.7Z" fill="#F00000"/>
</g>
<use href="#provf" fill="none" stroke="#5a5a5a" stroke-width="1.63185" stroke-dasharray="10.879 4.78677" stroke-opacity="0.85"/>
<use href="#riv" fill="none" stroke="#6b5a4a" stroke-opacity="0.9" stroke-width="1.52306"/>
<use href="#sub" fill="none" stroke="#111" stroke-width="1.74064" stroke-linejoin="round" stroke-dasharray="7.39774 2.39339 1.95822 2.39339"/>
<use href="#basin" fill="none" stroke="#111" stroke-width="2.17581" stroke-linejoin="round"/>
<g stroke-width="1.74064"><use href="#est"/></g>
</g></g>
<g filter="url(#noaa)"><rect x="756.7" y="962.4" width="275.8" height="362.5" fill="none" stroke="#2a2a2a" stroke-width="1.7"/>
<path d="M770.7 962.4v-2.1 M785.2 962.4v-3.5 M799.7 962.4v-2.1 M814.3 962.4v-3.5 M828.8 962.4v-2.1 M843.4 962.4v-3.5 M857.9 962.4v-2.1 M872.4 962.4v-3.5 M887.0 962.4v-2.1 M901.5 962.4v-3.5 M916.1 962.4v-2.1 M930.6 962.4v-3.5 M945.2 962.4v-2.1 M959.7 962.4v-3.5 M974.2 962.4v-2.1 M988.8 962.4v-3.5 M1003.3 962.4v-2.1 M1017.9 962.4v-3.5 M1032.4 962.4v-2.1 M756.7 977.2h-3.5 M756.7 991.7h-2.1 M756.7 1006.2h-3.5 M756.7 1020.7h-2.1 M756.7 1035.1h-3.5 M756.7 1049.6h-2.1 M756.7 1064.1h-3.5 M756.7 1078.6h-2.1 M756.7 1093.1h-3.5 M756.7 1107.6h-2.1 M756.7 1122.1h-3.5 M756.7 1136.5h-2.1 M756.7 1151.0h-3.5 M756.7 1165.5h-2.1 M756.7 1180.0h-3.5 M756.7 1194.5h-2.1 M756.7 1209.0h-3.5 M756.7 1223.4h-2.1 M756.7 1237.9h-3.5 M756.7 1252.4h-2.1 M756.7 1266.9h-3.5 M756.7 1281.4h-2.1 M756.7 1295.9h-3.5 M756.7 1310.3h-2.1" stroke="#0a0a0a" stroke-width="0.9" fill="none"/>
<text x="767.4" y="954.6" font-size="11.4" textLength="35.6" lengthAdjust="spacingAndGlyphs" fill="#3e3e3e">-70° W</text>
<text x="825.6" y="954.6" font-size="11.4" textLength="35.6" lengthAdjust="spacingAndGlyphs" fill="#3e3e3e">-68° W</text>
<text x="883.7" y="954.6" font-size="11.4" textLength="35.6" lengthAdjust="spacingAndGlyphs" fill="#3e3e3e">-66° W</text>
<text x="941.9" y="954.6" font-size="11.4" textLength="35.6" lengthAdjust="spacingAndGlyphs" fill="#3e3e3e">-64° W</text>
<text x="1000.1" y="954.6" font-size="11.4" textLength="35.6" lengthAdjust="spacingAndGlyphs" fill="#3e3e3e">-62° W</text>
<text x="719.8" y="981.5" font-size="11.4" textLength="31.3" lengthAdjust="spacingAndGlyphs" fill="#3e3e3e">-28° S</text>
<text x="719.8" y="1010.5" font-size="11.4" textLength="31.3" lengthAdjust="spacingAndGlyphs" fill="#3e3e3e">-29° S</text>
<text x="719.8" y="1039.4" font-size="11.4" textLength="31.3" lengthAdjust="spacingAndGlyphs" fill="#3e3e3e">-30° S</text>
<text x="719.8" y="1068.4" font-size="11.4" textLength="31.3" lengthAdjust="spacingAndGlyphs" fill="#3e3e3e">-31° S</text>
<text x="719.8" y="1097.4" font-size="11.4" textLength="31.3" lengthAdjust="spacingAndGlyphs" fill="#3e3e3e">-32° S</text>
<text x="719.8" y="1126.4" font-size="11.4" textLength="31.3" lengthAdjust="spacingAndGlyphs" fill="#3e3e3e">-33° S</text>
<text x="719.8" y="1155.3" font-size="11.4" textLength="31.3" lengthAdjust="spacingAndGlyphs" fill="#3e3e3e">-34° S</text>
<text x="719.8" y="1184.3" font-size="11.4" textLength="31.3" lengthAdjust="spacingAndGlyphs" fill="#3e3e3e">-35° S</text>
<text x="719.8" y="1213.3" font-size="11.4" textLength="31.3" lengthAdjust="spacingAndGlyphs" fill="#3e3e3e">-36° S</text>
<text x="719.8" y="1242.2" font-size="11.4" textLength="31.3" lengthAdjust="spacingAndGlyphs" fill="#3e3e3e">-37° S</text>
<text x="719.8" y="1271.2" font-size="11.4" textLength="31.3" lengthAdjust="spacingAndGlyphs" fill="#3e3e3e">-38° S</text>
<text x="719.8" y="1300.2" font-size="11.4" textLength="31.3" lengthAdjust="spacingAndGlyphs" fill="#3e3e3e">-39° S</text>
<text x="774" y="929" font-size="24" font-weight="bold" textLength="21.2" lengthAdjust="spacingAndGlyphs" fill="#111">(f)</text><text x="826.9" y="929" font-size="24" font-weight="bold" textLength="191.7" lengthAdjust="spacingAndGlyphs" fill="#111">CMCC-CM2-VHR4</text></g>
<g filter="url(#noaa)"><g>
<rect x="386" y="1349.6" width="79.7" height="25.5" fill="#F5F505"/>
<rect x="465.7" y="1349.6" width="79.3" height="25.5" fill="#F5A305"/>
<rect x="545" y="1349.6" width="79" height="25.5" fill="#F55005"/>
<rect x="624" y="1349.6" width="79" height="25.5" fill="#F00000"/>
<rect x="386.3" y="1349.6" width="316.2" height="25.5" fill="none" stroke="#6e6e6e" stroke-width="3"/>
<path d="M465.7 1349.6v25.5M545 1349.6v25.5M624 1349.6v25.5" stroke="#6e6e6e" stroke-width="3"/>
<text x="456.3" y="1403.2" font-size="24" fill="#1a1a1a" textLength="11.5" lengthAdjust="spacingAndGlyphs">1</text>
<text x="522.4" y="1403.2" font-size="24" fill="#1a1a1a" textLength="38.5" lengthAdjust="spacingAndGlyphs">1.5</text>
<text x="613.3" y="1403.2" font-size="24" fill="#1a1a1a" textLength="15.8" lengthAdjust="spacingAndGlyphs">2</text>
</g></g>
</svg>
</body></html>
